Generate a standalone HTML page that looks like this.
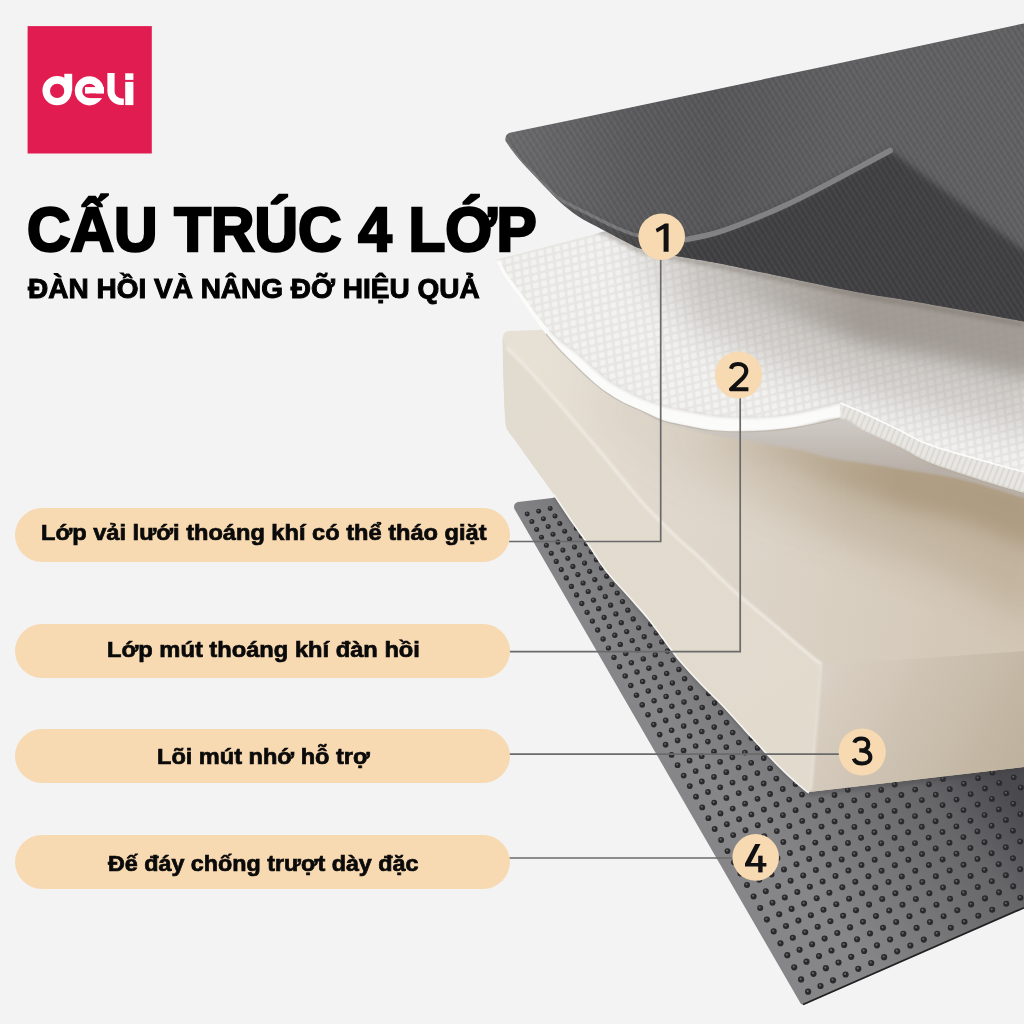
<!DOCTYPE html>
<html><head><meta charset="utf-8">
<style>
html,body{margin:0;padding:0}
body{width:1024px;height:1024px;overflow:hidden;position:relative;background:#f3f3f3;font-family:"Liberation Sans",sans-serif}
svg{position:absolute;left:0;top:0}
.t{position:absolute;white-space:nowrap;font-weight:bold;color:#000;transform-origin:0 0;line-height:1}
.pill{position:absolute;left:15px;width:495px;height:54px;border-radius:27px;background:#f7d9b2}
.pt{position:absolute;white-space:nowrap;font-weight:bold;color:#0a0a0a;font-size:22.3px;-webkit-text-stroke:0.7px #0a0a0a;line-height:1;transform-origin:0 0}
</style></head><body>
<svg width="1024" height="1024" viewBox="0 0 1024 1024">

<defs>
  <pattern id="stripes" patternUnits="userSpaceOnUse" width="5" height="5" patternTransform="rotate(-32)">
    <rect width="2.2" height="5" fill="#fff" fill-opacity="0.035"/>
    <rect x="2.5" width="2" height="5" fill="#000" fill-opacity="0.04"/>
  </pattern>
  <pattern id="stripes2" patternUnits="userSpaceOnUse" width="6" height="6" patternTransform="rotate(40)">
    <rect width="2" height="6" fill="#000" fill-opacity="0.03"/>
  </pattern>
  <pattern id="waffle" patternUnits="userSpaceOnUse" width="8.4" height="7.6" patternTransform="rotate(-14) skewX(-8)">
    <rect width="8.4" height="7.6" fill="#4a4236" fill-opacity="0.07"/>
    <rect x="1.3" y="1.2" width="5.8" height="5.2" rx="1.6" fill="#fff" fill-opacity="0.5"/>
  </pattern>
  <pattern id="ribs" patternUnits="userSpaceOnUse" width="5.5" height="5" patternTransform="rotate(22)">
    <rect width="1.6" height="5" fill="#9a9488" fill-opacity="0.2"/>
  </pattern>
  <linearGradient id="gL1" x1="505" y1="0" x2="1024" y2="0" gradientUnits="userSpaceOnUse">
    <stop offset="0" stop-color="#6b6b6d"/>
    <stop offset="0.25" stop-color="#5b5b5d"/>
    <stop offset="0.4" stop-color="#575759"/>
    <stop offset="0.66" stop-color="#606062"/>
    <stop offset="1" stop-color="#616163"/>
  </linearGradient>
  <linearGradient id="gL1r" x1="800" y1="200" x2="990" y2="90" gradientUnits="userSpaceOnUse">
    <stop offset="0" stop-color="#5f5f61" stop-opacity="0"/>
    <stop offset="1" stop-color="#646466" stop-opacity="1"/>
  </linearGradient>
  <linearGradient id="gL2s" x1="0" y1="0" x2="0" y2="1">
    <stop offset="0" stop-color="#9c9086" stop-opacity="0.75"/>
    <stop offset="1" stop-color="#9c9086" stop-opacity="0"/>
  </linearGradient>
  <linearGradient id="rampA" x1="680" y1="0" x2="860" y2="0" gradientUnits="userSpaceOnUse">
    <stop offset="0" stop-color="#fff" stop-opacity="0"/><stop offset="1" stop-color="#fff" stop-opacity="1"/>
  </linearGradient>
  <linearGradient id="rampB" x1="600" y1="0" x2="700" y2="0" gradientUnits="userSpaceOnUse">
    <stop offset="0" stop-color="#fff" stop-opacity="0"/><stop offset="1" stop-color="#fff" stop-opacity="1"/>
  </linearGradient>
  <linearGradient id="rampC" x1="700" y1="0" x2="900" y2="0" gradientUnits="userSpaceOnUse">
    <stop offset="0" stop-color="#fff" stop-opacity="0"/><stop offset="1" stop-color="#fff" stop-opacity="1"/>
  </linearGradient>
  <linearGradient id="rampD" x1="650" y1="0" x2="850" y2="0" gradientUnits="userSpaceOnUse">
    <stop offset="0" stop-color="#fff" stop-opacity="0.2"/><stop offset="1" stop-color="#fff" stop-opacity="1"/>
  </linearGradient>
  <linearGradient id="rampE" x1="560" y1="0" x2="690" y2="0" gradientUnits="userSpaceOnUse">
    <stop offset="0" stop-color="#fff" stop-opacity="0.3"/><stop offset="1" stop-color="#fff" stop-opacity="1"/>
  </linearGradient>
  <mask id="mE" maskUnits="userSpaceOnUse" x="0" y="0" width="1100" height="1100"><rect x="0" y="0" width="1100" height="1100" fill="url(#rampE)"/></mask>
  <mask id="mA" maskUnits="userSpaceOnUse" x="0" y="0" width="1100" height="1100"><rect x="0" y="0" width="1100" height="1100" fill="url(#rampA)"/></mask>
  <mask id="mB" maskUnits="userSpaceOnUse" x="0" y="0" width="1100" height="1100"><rect x="0" y="0" width="1100" height="1100" fill="url(#rampB)"/></mask>
  <mask id="mC" maskUnits="userSpaceOnUse" x="0" y="0" width="1100" height="1100"><rect x="0" y="0" width="1100" height="1100" fill="url(#rampC)"/></mask>
  <mask id="mD" maskUnits="userSpaceOnUse" x="0" y="0" width="1100" height="1100"><rect x="0" y="0" width="1100" height="1100" fill="url(#rampD)"/></mask>
  <filter id="bl10" x="-20%" y="-50%" width="140%" height="200%"><feGaussianBlur stdDeviation="10"/></filter>
  <filter id="bl18" x="-20%" y="-50%" width="140%" height="200%"><feGaussianBlur stdDeviation="18"/></filter>
  <linearGradient id="gTop" x1="520" y1="480" x2="1010" y2="560" gradientUnits="userSpaceOnUse">
    <stop offset="0" stop-color="#e6e0d5"/>
    <stop offset="0.25" stop-color="#e0d8cd"/>
    <stop offset="0.45" stop-color="#ddd5c9"/>
    <stop offset="1" stop-color="#d2c6b5"/>
  </linearGradient>
  <linearGradient id="gUnder" x1="0" y1="425" x2="0" y2="470" gradientUnits="userSpaceOnUse">
    <stop offset="0" stop-color="#cdc8c3"/>
    <stop offset="1" stop-color="#b8b0a8"/>
  </linearGradient>
  <linearGradient id="gTopS" x1="0" y1="420" x2="0" y2="560" gradientUnits="userSpaceOnUse">
    <stop offset="0" stop-color="#a89880" stop-opacity="0.55"/>
    <stop offset="1" stop-color="#a89880" stop-opacity="0"/>
  </linearGradient>
  <linearGradient id="gLF" x1="520" y1="380" x2="800" y2="720" gradientUnits="userSpaceOnUse">
    <stop offset="0" stop-color="#e2dbcf"/>
    <stop offset="1" stop-color="#e1dacd"/>
  </linearGradient>
  <linearGradient id="gFF" x1="830" y1="670" x2="1010" y2="770" gradientUnits="userSpaceOnUse">
    <stop offset="0" stop-color="#d9cfc2"/>
    <stop offset="1" stop-color="#bfb29e"/>
  </linearGradient>
  <linearGradient id="gL4" x1="840" y1="930" x2="1010" y2="790" gradientUnits="userSpaceOnUse">
    <stop offset="0" stop-color="#868688"/>
    <stop offset="0.7" stop-color="#666669"/>
    <stop offset="1" stop-color="#4a4a4e"/>
  </linearGradient>
  <filter id="blur3" x="-20%" y="-20%" width="140%" height="140%"><feGaussianBlur stdDeviation="3"/></filter>
  <filter id="blur6" x="-20%" y="-20%" width="140%" height="140%"><feGaussianBlur stdDeviation="8"/></filter>
  <filter id="blur2" x="-10%" y="-20%" width="120%" height="140%"><feGaussianBlur stdDeviation="2"/></filter>
  <filter id="blur1" x="-10%" y="-10%" width="120%" height="120%"><feGaussianBlur stdDeviation="0.8"/></filter>
  <clipPath id="cL1"><path d="M505.5,141 Q504.5,133 512.2,132.2 L575,119.3 L824,66.4 L1024,23.4 L1030,22 L1030,322.5 L1024,321.4 C1006.2,318.2 943.7,306.7 917.0,302.0 C890.3,297.3 883.5,296.9 864.0,293.3 C844.5,289.7 824.0,285.4 800.0,280.4 C776.0,275.4 737.0,266.9 720.0,263.5 C703.0,260.1 704.8,260.9 697.9,259.7 C691.0,258.5 685.2,257.6 678.9,256.5 C672.6,255.4 666.6,254.4 660.0,253.0 C653.4,251.6 644.8,250.0 639.5,248.3 C634.2,246.6 632.1,245.0 628.1,243.0 C624.1,241.0 620.5,239.2 615.4,236.5 C610.3,233.8 603.9,230.4 597.7,227.0 C591.5,223.6 584.3,220.3 578.1,216.2 C571.9,212.1 565.7,207.1 560.5,202.5 C555.3,197.9 551.6,193.7 546.9,188.8 C542.2,183.9 536.8,178.1 532.2,173.2 C527.6,168.3 524.0,164.9 519.5,159.5 C515.0,154.1 507.8,144.1 505.5,141.0 Z"/></clipPath>
  <clipPath id="cL2"><path d="M496.8,261.7 Q497,259 500,258.5 L591.6,234.7 L700,205 L1040,150 L1040,494 L1024,493 C1018.3,491.3 1005.7,488.1 990.0,483.0 C974.3,477.9 945.0,468.7 930.0,462.7 C915.0,456.7 910.8,452.4 900.0,447.2 C889.2,442.0 874.8,436.0 865.2,431.3 C855.6,426.6 846.1,421.1 842.3,419.0 L839.8,418.2 C835.7,419.2 823.2,422.3 815.0,424.0 C806.8,425.7 798.7,427.1 790.4,428.3 C782.1,429.5 773.6,430.4 765.0,431.0 C756.4,431.6 748.0,431.9 738.8,431.8 C729.6,431.7 719.3,431.6 710.0,430.5 C700.7,429.4 691.0,427.2 683.0,425.5 C675.0,423.8 669.2,423.0 662.0,420.5 C654.8,418.0 646.6,413.3 640.0,410.3 C633.4,407.3 628.0,405.4 622.5,402.5 C617.0,399.6 612.1,396.8 606.9,393.1 C601.7,389.5 596.5,385.2 591.2,380.6 C586.0,376.1 580.8,370.9 575.6,365.8 C570.4,360.7 564.9,355.5 560.0,350.2 C555.1,344.9 550.3,339.3 546.0,334.0 C541.7,328.7 538.5,324.6 534.0,318.4 C529.5,312.2 524.2,303.8 519.3,296.9 C514.4,290.0 508.4,283.2 504.6,277.3 C500.9,271.4 498.1,264.3 496.8,261.7 Z"/></clipPath>
  <clipPath id="cL3"><path d="M502.7,337.9 Q503,331.5 509,331 L538.8,330 L700,300 L1040,300 L1040,767 L1024,767 L809,792 C808.5,791.8 809.6,793.9 806.0,791.0 C802.4,788.1 794.1,781.0 787.4,774.7 C780.7,768.4 773.1,760.5 766.0,753.0 C758.9,745.5 751.7,737.4 744.5,729.6 C737.3,721.8 730.2,713.5 723.0,706.0 C715.8,698.5 708.7,692.0 701.5,684.5 C694.3,677.0 685.0,666.8 680.0,661.0 C675.0,655.2 676.5,656.7 671.3,649.8 C666.1,642.9 655.8,628.3 648.8,619.5 C641.8,610.7 636.5,605.4 629.3,597.1 C622.1,588.9 612.0,578.4 605.5,570.0 C599.0,561.6 595.4,554.8 590.0,547.0 C584.6,539.2 579.3,532.2 573.2,523.4 C567.1,514.6 560.1,503.5 553.6,494.1 C547.1,484.7 540.5,475.9 534.0,466.8 C527.5,457.7 518.7,445.2 514.5,439.4 C510.3,433.6 510.5,434.9 509.0,432.0 C507.5,429.1 506.4,430.7 505.5,422.0 C504.6,413.3 504.0,394.0 503.5,380.0 C503.0,366.0 502.8,344.9 502.7,337.9 Z"/></clipPath>
  <clipPath id="cL4"><path d="M514.3,508.7 Q513,503.5 518,502 L552.4,498 L1040,380 L1040,905 L1024,907.7 L805.5,1004.3 Q801.5,1006 799.5,1001.5 Z"/></clipPath>
</defs>

<!-- layer 4 -->
<path d="M514.3,508.7 Q513,503.5 518,502 L552.4,498 L1040,380 L1040,905 L1024,907.7 L805.5,1004.3 Q801.5,1006 799.5,1001.5 Z" fill="url(#gL4)"/>
<g clip-path="url(#cL4)">
  <g fill="#2a2a2d"><circle cx="527.2" cy="514.0" r="2.49"/><circle cx="531.9" cy="521.6" r="2.51"/><circle cx="536.7" cy="529.4" r="2.52"/><circle cx="541.5" cy="537.2" r="2.53"/><circle cx="546.4" cy="545.2" r="2.54"/><circle cx="551.3" cy="553.2" r="2.56"/><circle cx="556.3" cy="561.4" r="2.57"/><circle cx="561.3" cy="569.6" r="2.58"/><circle cx="566.3" cy="577.9" r="2.60"/><circle cx="571.4" cy="586.4" r="2.61"/><circle cx="576.6" cy="594.9" r="2.62"/><circle cx="581.8" cy="603.5" r="2.64"/><circle cx="587.1" cy="612.3" r="2.65"/><circle cx="592.4" cy="621.1" r="2.66"/><circle cx="597.7" cy="630.0" r="2.67"/><circle cx="603.1" cy="639.0" r="2.69"/><circle cx="608.5" cy="648.1" r="2.70"/><circle cx="614.0" cy="657.4" r="2.71"/><circle cx="619.6" cy="666.7" r="2.73"/><circle cx="625.2" cy="676.1" r="2.74"/><circle cx="630.8" cy="685.6" r="2.75"/><circle cx="636.5" cy="695.2" r="2.77"/><circle cx="642.2" cy="704.9" r="2.78"/><circle cx="648.0" cy="714.7" r="2.79"/><circle cx="653.8" cy="724.6" r="2.81"/><circle cx="659.7" cy="734.6" r="2.82"/><circle cx="665.6" cy="744.7" r="2.83"/><circle cx="671.6" cy="754.9" r="2.84"/><circle cx="677.6" cy="765.2" r="2.86"/><circle cx="683.7" cy="775.6" r="2.87"/><circle cx="689.8" cy="786.1" r="2.88"/><circle cx="696.0" cy="796.7" r="2.90"/><circle cx="702.2" cy="807.4" r="2.91"/><circle cx="708.4" cy="818.2" r="2.92"/><circle cx="714.7" cy="829.0" r="2.94"/><circle cx="721.1" cy="840.0" r="2.95"/><circle cx="727.5" cy="851.1" r="2.96"/><circle cx="734.0" cy="862.3" r="2.98"/><circle cx="740.5" cy="873.6" r="2.99"/><circle cx="747.0" cy="884.9" r="3.00"/><circle cx="753.6" cy="896.4" r="3.01"/><circle cx="760.2" cy="908.0" r="3.03"/><circle cx="766.9" cy="919.6" r="3.04"/><circle cx="773.7" cy="931.4" r="3.05"/><circle cx="780.5" cy="943.3" r="3.07"/><circle cx="787.3" cy="955.2" r="3.08"/><circle cx="794.2" cy="967.3" r="3.09"/><circle cx="801.1" cy="979.4" r="3.11"/><circle cx="808.1" cy="991.7" r="3.12"/><circle cx="538.7" cy="511.2" r="2.49"/><circle cx="543.4" cy="518.8" r="2.50"/><circle cx="548.2" cy="526.5" r="2.51"/><circle cx="553.0" cy="534.2" r="2.53"/><circle cx="557.9" cy="542.1" r="2.54"/><circle cx="562.9" cy="550.1" r="2.55"/><circle cx="567.8" cy="558.2" r="2.57"/><circle cx="572.9" cy="566.4" r="2.58"/><circle cx="577.9" cy="574.6" r="2.59"/><circle cx="583.1" cy="583.0" r="2.60"/><circle cx="588.2" cy="591.5" r="2.62"/><circle cx="593.5" cy="600.1" r="2.63"/><circle cx="598.7" cy="608.7" r="2.64"/><circle cx="604.1" cy="617.5" r="2.66"/><circle cx="609.4" cy="626.4" r="2.67"/><circle cx="614.8" cy="635.3" r="2.68"/><circle cx="620.3" cy="644.4" r="2.70"/><circle cx="625.8" cy="653.5" r="2.71"/><circle cx="631.4" cy="662.8" r="2.72"/><circle cx="637.0" cy="672.1" r="2.74"/><circle cx="642.6" cy="681.6" r="2.75"/><circle cx="648.3" cy="691.1" r="2.76"/><circle cx="654.1" cy="700.8" r="2.77"/><circle cx="659.9" cy="710.5" r="2.79"/><circle cx="665.7" cy="720.4" r="2.80"/><circle cx="671.6" cy="730.3" r="2.81"/><circle cx="677.6" cy="740.4" r="2.83"/><circle cx="683.6" cy="750.5" r="2.84"/><circle cx="689.6" cy="760.7" r="2.85"/><circle cx="695.7" cy="771.1" r="2.87"/><circle cx="701.8" cy="781.5" r="2.88"/><circle cx="708.0" cy="792.0" r="2.89"/><circle cx="714.2" cy="802.6" r="2.90"/><circle cx="720.5" cy="813.4" r="2.92"/><circle cx="726.9" cy="824.2" r="2.93"/><circle cx="733.2" cy="835.1" r="2.94"/><circle cx="739.6" cy="846.1" r="2.96"/><circle cx="746.1" cy="857.2" r="2.97"/><circle cx="752.6" cy="868.5" r="2.98"/><circle cx="759.2" cy="879.8" r="3.00"/><circle cx="765.8" cy="891.2" r="3.01"/><circle cx="772.5" cy="902.7" r="3.02"/><circle cx="779.2" cy="914.3" r="3.04"/><circle cx="786.0" cy="926.0" r="3.05"/><circle cx="792.8" cy="937.8" r="3.06"/><circle cx="799.6" cy="949.7" r="3.07"/><circle cx="806.5" cy="961.7" r="3.09"/><circle cx="813.5" cy="973.8" r="3.10"/><circle cx="820.5" cy="986.0" r="3.11"/><circle cx="550.2" cy="508.4" r="2.48"/><circle cx="555.0" cy="515.9" r="2.50"/><circle cx="559.8" cy="523.5" r="2.51"/><circle cx="564.7" cy="531.2" r="2.52"/><circle cx="569.6" cy="539.1" r="2.53"/><circle cx="574.5" cy="547.0" r="2.55"/><circle cx="579.5" cy="555.0" r="2.56"/><circle cx="584.6" cy="563.1" r="2.57"/><circle cx="589.7" cy="571.3" r="2.59"/><circle cx="594.8" cy="579.6" r="2.60"/><circle cx="600.0" cy="588.1" r="2.61"/><circle cx="605.3" cy="596.6" r="2.63"/><circle cx="610.6" cy="605.2" r="2.64"/><circle cx="615.9" cy="613.9" r="2.65"/><circle cx="621.3" cy="622.7" r="2.66"/><circle cx="626.7" cy="631.6" r="2.68"/><circle cx="632.2" cy="640.6" r="2.69"/><circle cx="637.7" cy="649.7" r="2.70"/><circle cx="643.3" cy="658.9" r="2.72"/><circle cx="648.9" cy="668.2" r="2.73"/><circle cx="654.6" cy="677.6" r="2.74"/><circle cx="660.3" cy="687.0" r="2.76"/><circle cx="666.1" cy="696.6" r="2.77"/><circle cx="671.9" cy="706.3" r="2.78"/><circle cx="677.8" cy="716.1" r="2.80"/><circle cx="683.7" cy="726.0" r="2.81"/><circle cx="689.7" cy="736.0" r="2.82"/><circle cx="695.7" cy="746.0" r="2.83"/><circle cx="701.7" cy="756.2" r="2.85"/><circle cx="707.8" cy="766.5" r="2.86"/><circle cx="714.0" cy="776.9" r="2.87"/><circle cx="720.2" cy="787.3" r="2.89"/><circle cx="726.4" cy="797.9" r="2.90"/><circle cx="732.7" cy="808.6" r="2.91"/><circle cx="739.1" cy="819.3" r="2.93"/><circle cx="745.5" cy="830.2" r="2.94"/><circle cx="751.9" cy="841.1" r="2.95"/><circle cx="758.4" cy="852.2" r="2.97"/><circle cx="764.9" cy="863.3" r="2.98"/><circle cx="771.5" cy="874.6" r="2.99"/><circle cx="778.2" cy="886.0" r="3.00"/><circle cx="784.8" cy="897.4" r="3.02"/><circle cx="791.6" cy="908.9" r="3.03"/><circle cx="798.4" cy="920.6" r="3.04"/><circle cx="805.2" cy="932.3" r="3.06"/><circle cx="812.1" cy="944.2" r="3.07"/><circle cx="819.0" cy="956.1" r="3.08"/><circle cx="825.9" cy="968.2" r="3.10"/><circle cx="833.0" cy="980.3" r="3.11"/><circle cx="576.4" cy="528.2" r="2.52"/><circle cx="581.4" cy="536.0" r="2.53"/><circle cx="586.3" cy="543.8" r="2.54"/><circle cx="591.3" cy="551.8" r="2.56"/><circle cx="596.4" cy="559.8" r="2.57"/><circle cx="601.5" cy="568.0" r="2.58"/><circle cx="606.7" cy="576.2" r="2.59"/><circle cx="611.9" cy="584.6" r="2.61"/><circle cx="617.2" cy="593.0" r="2.62"/><circle cx="622.5" cy="601.6" r="2.63"/><circle cx="627.8" cy="610.2" r="2.65"/><circle cx="633.2" cy="619.0" r="2.66"/><circle cx="638.7" cy="627.8" r="2.67"/><circle cx="644.2" cy="636.8" r="2.69"/><circle cx="649.7" cy="645.8" r="2.70"/><circle cx="655.3" cy="654.9" r="2.71"/><circle cx="661.0" cy="664.2" r="2.73"/><circle cx="666.7" cy="673.5" r="2.74"/><circle cx="672.4" cy="682.9" r="2.75"/><circle cx="678.2" cy="692.4" r="2.76"/><circle cx="684.0" cy="702.1" r="2.78"/><circle cx="689.9" cy="711.8" r="2.79"/><circle cx="695.9" cy="721.6" r="2.80"/><circle cx="701.8" cy="731.5" r="2.82"/><circle cx="707.9" cy="741.6" r="2.83"/><circle cx="714.0" cy="751.7" r="2.84"/><circle cx="720.1" cy="761.9" r="2.86"/><circle cx="726.3" cy="772.2" r="2.87"/><circle cx="732.5" cy="782.6" r="2.88"/><circle cx="738.7" cy="793.1" r="2.89"/><circle cx="745.1" cy="803.7" r="2.91"/><circle cx="751.4" cy="814.4" r="2.92"/><circle cx="757.8" cy="825.2" r="2.93"/><circle cx="764.3" cy="836.1" r="2.95"/><circle cx="770.8" cy="847.1" r="2.96"/><circle cx="777.4" cy="858.2" r="2.97"/><circle cx="784.0" cy="869.4" r="2.99"/><circle cx="790.6" cy="880.7" r="3.00"/><circle cx="797.3" cy="892.1" r="3.01"/><circle cx="804.1" cy="903.6" r="3.03"/><circle cx="810.9" cy="915.2" r="3.04"/><circle cx="817.7" cy="926.8" r="3.05"/><circle cx="824.6" cy="938.6" r="3.06"/><circle cx="831.5" cy="950.5" r="3.08"/><circle cx="838.5" cy="962.5" r="3.09"/><circle cx="845.6" cy="974.5" r="3.10"/><circle cx="650.8" cy="624.0" r="2.67"/><circle cx="656.3" cy="632.9" r="2.68"/><circle cx="661.9" cy="641.9" r="2.69"/><circle cx="667.5" cy="651.0" r="2.71"/><circle cx="673.2" cy="660.1" r="2.72"/><circle cx="678.9" cy="669.4" r="2.73"/><circle cx="684.6" cy="678.8" r="2.75"/><circle cx="690.4" cy="688.2" r="2.76"/><circle cx="696.3" cy="697.8" r="2.77"/><circle cx="702.2" cy="707.5" r="2.79"/><circle cx="708.2" cy="717.2" r="2.80"/><circle cx="714.2" cy="727.1" r="2.81"/><circle cx="720.2" cy="737.0" r="2.82"/><circle cx="726.3" cy="747.1" r="2.84"/><circle cx="732.4" cy="757.3" r="2.85"/><circle cx="738.6" cy="767.5" r="2.86"/><circle cx="744.9" cy="777.9" r="2.88"/><circle cx="751.2" cy="788.3" r="2.89"/><circle cx="757.5" cy="798.8" r="2.90"/><circle cx="763.9" cy="809.5" r="2.92"/><circle cx="770.3" cy="820.2" r="2.93"/><circle cx="776.8" cy="831.1" r="2.94"/><circle cx="783.3" cy="842.0" r="2.95"/><circle cx="789.9" cy="853.0" r="2.97"/><circle cx="796.5" cy="864.2" r="2.98"/><circle cx="803.2" cy="875.4" r="2.99"/><circle cx="809.9" cy="886.7" r="3.01"/><circle cx="816.7" cy="898.2" r="3.02"/><circle cx="823.5" cy="909.7" r="3.03"/><circle cx="830.4" cy="921.3" r="3.05"/><circle cx="837.3" cy="933.0" r="3.06"/><circle cx="844.2" cy="944.9" r="3.07"/><circle cx="851.2" cy="956.8" r="3.09"/><circle cx="858.3" cy="968.8" r="3.10"/><circle cx="708.7" cy="693.5" r="2.77"/><circle cx="714.6" cy="703.1" r="2.78"/><circle cx="720.6" cy="712.8" r="2.79"/><circle cx="726.6" cy="722.6" r="2.81"/><circle cx="732.7" cy="732.5" r="2.82"/><circle cx="738.8" cy="742.5" r="2.83"/><circle cx="744.9" cy="752.6" r="2.85"/><circle cx="751.2" cy="762.8" r="2.86"/><circle cx="757.4" cy="773.1" r="2.87"/><circle cx="763.7" cy="783.5" r="2.88"/><circle cx="770.1" cy="794.0" r="2.90"/><circle cx="776.5" cy="804.5" r="2.91"/><circle cx="782.9" cy="815.2" r="2.92"/><circle cx="789.4" cy="826.0" r="2.94"/><circle cx="796.0" cy="836.9" r="2.95"/><circle cx="802.6" cy="847.9" r="2.96"/><circle cx="809.2" cy="858.9" r="2.98"/><circle cx="815.9" cy="870.1" r="2.99"/><circle cx="822.6" cy="881.4" r="3.00"/><circle cx="829.4" cy="892.7" r="3.02"/><circle cx="836.3" cy="904.2" r="3.03"/><circle cx="843.1" cy="915.8" r="3.04"/><circle cx="850.1" cy="927.4" r="3.05"/><circle cx="857.1" cy="939.2" r="3.07"/><circle cx="864.1" cy="951.0" r="3.08"/><circle cx="871.2" cy="963.0" r="3.09"/><circle cx="751.4" cy="737.9" r="2.83"/><circle cx="757.6" cy="747.9" r="2.84"/><circle cx="763.8" cy="758.1" r="2.85"/><circle cx="770.1" cy="768.3" r="2.87"/><circle cx="776.4" cy="778.6" r="2.88"/><circle cx="782.8" cy="789.0" r="2.89"/><circle cx="789.2" cy="799.6" r="2.91"/><circle cx="795.6" cy="810.2" r="2.92"/><circle cx="802.2" cy="820.9" r="2.93"/><circle cx="808.7" cy="831.7" r="2.94"/><circle cx="815.3" cy="842.6" r="2.96"/><circle cx="822.0" cy="853.7" r="2.97"/><circle cx="828.7" cy="864.8" r="2.98"/><circle cx="835.5" cy="876.0" r="3.00"/><circle cx="842.3" cy="887.3" r="3.01"/><circle cx="849.1" cy="898.7" r="3.02"/><circle cx="856.0" cy="910.2" r="3.04"/><circle cx="863.0" cy="921.8" r="3.05"/><circle cx="870.0" cy="933.5" r="3.06"/><circle cx="877.0" cy="945.3" r="3.08"/><circle cx="884.1" cy="957.2" r="3.09"/><circle cx="795.6" cy="784.1" r="2.89"/><circle cx="802.0" cy="794.6" r="2.90"/><circle cx="808.5" cy="805.1" r="2.91"/><circle cx="815.0" cy="815.8" r="2.93"/><circle cx="821.6" cy="826.6" r="2.94"/><circle cx="828.2" cy="837.4" r="2.95"/><circle cx="834.9" cy="848.4" r="2.97"/><circle cx="841.7" cy="859.4" r="2.98"/><circle cx="848.4" cy="870.6" r="2.99"/><circle cx="855.3" cy="881.8" r="3.01"/><circle cx="862.1" cy="893.2" r="3.02"/><circle cx="869.1" cy="904.6" r="3.03"/><circle cx="876.0" cy="916.1" r="3.04"/><circle cx="883.0" cy="927.8" r="3.06"/><circle cx="890.1" cy="939.5" r="3.07"/><circle cx="897.2" cy="951.3" r="3.08"/><circle cx="821.5" cy="800.1" r="2.91"/><circle cx="828.0" cy="810.7" r="2.92"/><circle cx="834.6" cy="821.4" r="2.94"/><circle cx="841.3" cy="832.1" r="2.95"/><circle cx="848.0" cy="843.0" r="2.96"/><circle cx="854.7" cy="854.0" r="2.97"/><circle cx="861.5" cy="865.1" r="2.99"/><circle cx="868.4" cy="876.3" r="3.00"/><circle cx="875.3" cy="887.6" r="3.01"/><circle cx="882.2" cy="899.0" r="3.03"/><circle cx="889.2" cy="910.5" r="3.04"/><circle cx="896.2" cy="922.0" r="3.05"/><circle cx="903.3" cy="933.7" r="3.07"/><circle cx="910.4" cy="945.5" r="3.08"/><circle cx="834.5" cy="795.0" r="2.90"/><circle cx="841.1" cy="805.5" r="2.92"/><circle cx="847.7" cy="816.1" r="2.93"/><circle cx="854.4" cy="826.9" r="2.94"/><circle cx="861.1" cy="837.7" r="2.96"/><circle cx="867.9" cy="848.6" r="2.97"/><circle cx="874.7" cy="859.7" r="2.98"/><circle cx="881.6" cy="870.8" r="3.00"/><circle cx="888.5" cy="882.0" r="3.01"/><circle cx="895.4" cy="893.3" r="3.02"/><circle cx="902.5" cy="904.8" r="3.03"/><circle cx="909.5" cy="916.3" r="3.05"/><circle cx="916.6" cy="927.9" r="3.06"/><circle cx="923.8" cy="939.6" r="3.07"/><circle cx="847.8" cy="789.8" r="2.90"/><circle cx="854.3" cy="800.3" r="2.91"/><circle cx="861.0" cy="810.9" r="2.93"/><circle cx="867.7" cy="821.6" r="2.94"/><circle cx="874.4" cy="832.3" r="2.95"/><circle cx="881.2" cy="843.2" r="2.96"/><circle cx="888.0" cy="854.2" r="2.98"/><circle cx="894.9" cy="865.2" r="2.99"/><circle cx="901.8" cy="876.4" r="3.00"/><circle cx="908.8" cy="887.7" r="3.02"/><circle cx="915.9" cy="899.0" r="3.03"/><circle cx="922.9" cy="910.5" r="3.04"/><circle cx="930.0" cy="922.0" r="3.06"/><circle cx="937.2" cy="933.7" r="3.07"/><circle cx="867.7" cy="795.1" r="2.91"/><circle cx="874.3" cy="805.6" r="2.92"/><circle cx="881.1" cy="816.2" r="2.93"/><circle cx="887.8" cy="826.9" r="2.95"/><circle cx="894.6" cy="837.7" r="2.96"/><circle cx="901.5" cy="848.7" r="2.97"/><circle cx="908.4" cy="859.7" r="2.99"/><circle cx="915.3" cy="870.8" r="3.00"/><circle cx="922.3" cy="882.0" r="3.01"/><circle cx="929.4" cy="893.3" r="3.02"/><circle cx="936.5" cy="904.7" r="3.04"/><circle cx="943.6" cy="916.2" r="3.05"/><circle cx="950.8" cy="927.8" r="3.06"/><circle cx="881.2" cy="789.9" r="2.90"/><circle cx="887.8" cy="800.3" r="2.92"/><circle cx="894.6" cy="810.9" r="2.93"/><circle cx="901.3" cy="821.5" r="2.94"/><circle cx="908.2" cy="832.3" r="2.95"/><circle cx="915.0" cy="843.1" r="2.97"/><circle cx="922.0" cy="854.1" r="2.98"/><circle cx="928.9" cy="865.1" r="2.99"/><circle cx="935.9" cy="876.3" r="3.01"/><circle cx="943.0" cy="887.5" r="3.02"/><circle cx="950.1" cy="898.8" r="3.03"/><circle cx="957.3" cy="910.3" r="3.05"/><circle cx="964.5" cy="921.8" r="3.06"/><circle cx="894.7" cy="784.6" r="2.90"/><circle cx="901.4" cy="795.0" r="2.91"/><circle cx="908.2" cy="805.5" r="2.92"/><circle cx="915.0" cy="816.1" r="2.94"/><circle cx="921.8" cy="826.8" r="2.95"/><circle cx="928.7" cy="837.6" r="2.96"/><circle cx="935.7" cy="848.4" r="2.98"/><circle cx="942.6" cy="859.4" r="2.99"/><circle cx="949.7" cy="870.5" r="3.00"/><circle cx="956.8" cy="881.7" r="3.01"/><circle cx="963.9" cy="893.0" r="3.03"/><circle cx="971.1" cy="904.4" r="3.04"/><circle cx="978.3" cy="915.8" r="3.05"/><circle cx="915.2" cy="789.6" r="2.91"/><circle cx="921.9" cy="800.1" r="2.92"/><circle cx="928.7" cy="810.6" r="2.93"/><circle cx="935.6" cy="821.2" r="2.94"/><circle cx="942.5" cy="832.0" r="2.96"/><circle cx="949.5" cy="842.8" r="2.97"/><circle cx="956.5" cy="853.7" r="2.98"/><circle cx="963.5" cy="864.8" r="3.00"/><circle cx="970.6" cy="875.9" r="3.01"/><circle cx="977.8" cy="887.1" r="3.02"/><circle cx="985.0" cy="898.4" r="3.04"/><circle cx="992.2" cy="909.8" r="3.05"/><circle cx="929.0" cy="784.3" r="2.90"/><circle cx="935.8" cy="794.7" r="2.91"/><circle cx="942.6" cy="805.1" r="2.93"/><circle cx="949.5" cy="815.7" r="2.94"/><circle cx="956.4" cy="826.4" r="2.95"/><circle cx="963.4" cy="837.1" r="2.97"/><circle cx="970.4" cy="848.0" r="2.98"/><circle cx="977.5" cy="859.0" r="2.99"/><circle cx="984.6" cy="870.0" r="3.01"/><circle cx="991.8" cy="881.2" r="3.02"/><circle cx="999.0" cy="892.4" r="3.03"/><circle cx="1006.3" cy="903.8" r="3.04"/><circle cx="943.0" cy="778.9" r="2.90"/><circle cx="949.8" cy="789.2" r="2.91"/><circle cx="956.6" cy="799.6" r="2.92"/><circle cx="963.5" cy="810.1" r="2.94"/><circle cx="970.5" cy="820.7" r="2.95"/><circle cx="977.5" cy="831.4" r="2.96"/><circle cx="984.5" cy="842.2" r="2.97"/><circle cx="991.6" cy="853.2" r="2.99"/><circle cx="998.7" cy="864.2" r="3.00"/><circle cx="1005.9" cy="875.3" r="3.01"/><circle cx="1013.2" cy="886.4" r="3.03"/><circle cx="1020.4" cy="897.7" r="3.04"/><circle cx="963.9" cy="783.7" r="2.90"/><circle cx="970.7" cy="794.1" r="2.92"/><circle cx="977.7" cy="804.5" r="2.93"/><circle cx="984.6" cy="815.1" r="2.94"/><circle cx="991.6" cy="825.7" r="2.96"/><circle cx="998.7" cy="836.5" r="2.97"/><circle cx="1005.8" cy="847.3" r="2.98"/><circle cx="1013.0" cy="858.3" r="3.00"/><circle cx="1020.2" cy="869.3" r="3.01"/><circle cx="1027.4" cy="880.4" r="3.02"/><circle cx="978.1" cy="778.2" r="2.90"/><circle cx="985.0" cy="788.5" r="2.91"/><circle cx="991.9" cy="798.9" r="2.93"/><circle cx="998.9" cy="809.4" r="2.94"/><circle cx="1005.9" cy="820.0" r="2.95"/><circle cx="1013.0" cy="830.7" r="2.96"/><circle cx="1020.2" cy="841.5" r="2.98"/><circle cx="1027.3" cy="852.3" r="2.99"/><circle cx="992.4" cy="772.7" r="2.90"/><circle cx="999.3" cy="782.9" r="2.91"/><circle cx="1006.3" cy="793.3" r="2.92"/><circle cx="1013.3" cy="803.7" r="2.93"/><circle cx="1020.4" cy="814.2" r="2.95"/><circle cx="1027.5" cy="824.8" r="2.96"/><circle cx="1013.8" cy="777.3" r="2.90"/><circle cx="1020.8" cy="787.6" r="2.92"/><circle cx="1027.8" cy="798.0" r="2.93"/><circle cx="1028.4" cy="771.7" r="2.90"/></g>
  <g fill="#8a8a8c" fill-opacity="0.6"><circle cx="526.7" cy="513.4" r="0.87"/><circle cx="531.4" cy="521.0" r="0.88"/><circle cx="536.2" cy="528.8" r="0.88"/><circle cx="541.0" cy="536.6" r="0.89"/><circle cx="545.9" cy="544.6" r="0.89"/><circle cx="550.8" cy="552.6" r="0.90"/><circle cx="555.8" cy="560.8" r="0.90"/><circle cx="560.8" cy="569.0" r="0.90"/><circle cx="565.8" cy="577.3" r="0.91"/><circle cx="570.9" cy="585.8" r="0.91"/><circle cx="576.1" cy="594.3" r="0.92"/><circle cx="581.3" cy="602.9" r="0.92"/><circle cx="586.6" cy="611.7" r="0.93"/><circle cx="591.9" cy="620.5" r="0.93"/><circle cx="597.2" cy="629.4" r="0.94"/><circle cx="602.6" cy="638.4" r="0.94"/><circle cx="608.0" cy="647.5" r="0.95"/><circle cx="613.5" cy="656.8" r="0.95"/><circle cx="619.1" cy="666.1" r="0.95"/><circle cx="624.7" cy="675.5" r="0.96"/><circle cx="630.3" cy="685.0" r="0.96"/><circle cx="636.0" cy="694.6" r="0.97"/><circle cx="641.7" cy="704.3" r="0.97"/><circle cx="647.5" cy="714.1" r="0.98"/><circle cx="653.3" cy="724.0" r="0.98"/><circle cx="659.2" cy="734.0" r="0.99"/><circle cx="665.1" cy="744.1" r="0.99"/><circle cx="671.1" cy="754.3" r="1.00"/><circle cx="677.1" cy="764.6" r="1.00"/><circle cx="683.2" cy="775.0" r="1.00"/><circle cx="689.3" cy="785.5" r="1.01"/><circle cx="695.5" cy="796.1" r="1.01"/><circle cx="701.7" cy="806.8" r="1.02"/><circle cx="707.9" cy="817.6" r="1.02"/><circle cx="714.2" cy="828.4" r="1.03"/><circle cx="720.6" cy="839.4" r="1.03"/><circle cx="727.0" cy="850.5" r="1.04"/><circle cx="733.5" cy="861.7" r="1.04"/><circle cx="740.0" cy="873.0" r="1.05"/><circle cx="746.5" cy="884.3" r="1.05"/><circle cx="753.1" cy="895.8" r="1.06"/><circle cx="759.7" cy="907.4" r="1.06"/><circle cx="766.4" cy="919.0" r="1.06"/><circle cx="773.2" cy="930.8" r="1.07"/><circle cx="780.0" cy="942.7" r="1.07"/><circle cx="786.8" cy="954.6" r="1.08"/><circle cx="793.7" cy="966.7" r="1.08"/><circle cx="800.6" cy="978.8" r="1.09"/><circle cx="807.6" cy="991.1" r="1.09"/><circle cx="538.2" cy="510.6" r="0.87"/><circle cx="542.9" cy="518.2" r="0.88"/><circle cx="547.7" cy="525.9" r="0.88"/><circle cx="552.5" cy="533.6" r="0.88"/><circle cx="557.4" cy="541.5" r="0.89"/><circle cx="562.4" cy="549.5" r="0.89"/><circle cx="567.3" cy="557.6" r="0.90"/><circle cx="572.4" cy="565.8" r="0.90"/><circle cx="577.4" cy="574.0" r="0.91"/><circle cx="582.6" cy="582.4" r="0.91"/><circle cx="587.8" cy="590.9" r="0.92"/><circle cx="593.0" cy="599.5" r="0.92"/><circle cx="598.2" cy="608.1" r="0.93"/><circle cx="603.6" cy="616.9" r="0.93"/><circle cx="608.9" cy="625.8" r="0.93"/><circle cx="614.3" cy="634.7" r="0.94"/><circle cx="619.8" cy="643.8" r="0.94"/><circle cx="625.3" cy="652.9" r="0.95"/><circle cx="630.9" cy="662.2" r="0.95"/><circle cx="636.5" cy="671.5" r="0.96"/><circle cx="642.1" cy="681.0" r="0.96"/><circle cx="647.8" cy="690.5" r="0.97"/><circle cx="653.6" cy="700.2" r="0.97"/><circle cx="659.4" cy="709.9" r="0.98"/><circle cx="665.2" cy="719.8" r="0.98"/><circle cx="671.1" cy="729.7" r="0.98"/><circle cx="677.1" cy="739.8" r="0.99"/><circle cx="683.1" cy="749.9" r="0.99"/><circle cx="689.1" cy="760.1" r="1.00"/><circle cx="695.2" cy="770.5" r="1.00"/><circle cx="701.3" cy="780.9" r="1.01"/><circle cx="707.5" cy="791.4" r="1.01"/><circle cx="713.7" cy="802.0" r="1.02"/><circle cx="720.0" cy="812.8" r="1.02"/><circle cx="726.4" cy="823.6" r="1.03"/><circle cx="732.7" cy="834.5" r="1.03"/><circle cx="739.1" cy="845.5" r="1.03"/><circle cx="745.6" cy="856.6" r="1.04"/><circle cx="752.1" cy="867.9" r="1.04"/><circle cx="758.7" cy="879.2" r="1.05"/><circle cx="765.3" cy="890.6" r="1.05"/><circle cx="772.0" cy="902.1" r="1.06"/><circle cx="778.7" cy="913.7" r="1.06"/><circle cx="785.5" cy="925.4" r="1.07"/><circle cx="792.3" cy="937.2" r="1.07"/><circle cx="799.1" cy="949.1" r="1.08"/><circle cx="806.0" cy="961.1" r="1.08"/><circle cx="813.0" cy="973.2" r="1.09"/><circle cx="820.0" cy="985.4" r="1.09"/><circle cx="549.7" cy="507.8" r="0.87"/><circle cx="554.5" cy="515.3" r="0.87"/><circle cx="559.3" cy="522.9" r="0.88"/><circle cx="564.2" cy="530.6" r="0.88"/><circle cx="569.1" cy="538.5" r="0.89"/><circle cx="574.0" cy="546.4" r="0.89"/><circle cx="579.0" cy="554.4" r="0.90"/><circle cx="584.1" cy="562.5" r="0.90"/><circle cx="589.2" cy="570.7" r="0.91"/><circle cx="594.3" cy="579.0" r="0.91"/><circle cx="599.5" cy="587.5" r="0.91"/><circle cx="604.8" cy="596.0" r="0.92"/><circle cx="610.1" cy="604.6" r="0.92"/><circle cx="615.4" cy="613.3" r="0.93"/><circle cx="620.8" cy="622.1" r="0.93"/><circle cx="626.2" cy="631.0" r="0.94"/><circle cx="631.7" cy="640.0" r="0.94"/><circle cx="637.2" cy="649.1" r="0.95"/><circle cx="642.8" cy="658.3" r="0.95"/><circle cx="648.4" cy="667.6" r="0.96"/><circle cx="654.1" cy="677.0" r="0.96"/><circle cx="659.8" cy="686.4" r="0.96"/><circle cx="665.6" cy="696.0" r="0.97"/><circle cx="671.4" cy="705.7" r="0.97"/><circle cx="677.3" cy="715.5" r="0.98"/><circle cx="683.2" cy="725.4" r="0.98"/><circle cx="689.2" cy="735.4" r="0.99"/><circle cx="695.2" cy="745.4" r="0.99"/><circle cx="701.2" cy="755.6" r="1.00"/><circle cx="707.3" cy="765.9" r="1.00"/><circle cx="713.5" cy="776.3" r="1.01"/><circle cx="719.7" cy="786.7" r="1.01"/><circle cx="725.9" cy="797.3" r="1.01"/><circle cx="732.2" cy="808.0" r="1.02"/><circle cx="738.6" cy="818.7" r="1.02"/><circle cx="745.0" cy="829.6" r="1.03"/><circle cx="751.4" cy="840.5" r="1.03"/><circle cx="757.9" cy="851.6" r="1.04"/><circle cx="764.4" cy="862.7" r="1.04"/><circle cx="771.0" cy="874.0" r="1.05"/><circle cx="777.7" cy="885.4" r="1.05"/><circle cx="784.3" cy="896.8" r="1.06"/><circle cx="791.1" cy="908.3" r="1.06"/><circle cx="797.9" cy="920.0" r="1.07"/><circle cx="804.7" cy="931.7" r="1.07"/><circle cx="811.6" cy="943.6" r="1.07"/><circle cx="818.5" cy="955.5" r="1.08"/><circle cx="825.4" cy="967.6" r="1.08"/><circle cx="832.5" cy="979.7" r="1.09"/><circle cx="575.9" cy="527.6" r="0.88"/><circle cx="580.9" cy="535.4" r="0.89"/><circle cx="585.8" cy="543.2" r="0.89"/><circle cx="590.8" cy="551.2" r="0.89"/><circle cx="595.9" cy="559.2" r="0.90"/><circle cx="601.0" cy="567.4" r="0.90"/><circle cx="606.2" cy="575.6" r="0.91"/><circle cx="611.4" cy="584.0" r="0.91"/><circle cx="616.7" cy="592.4" r="0.92"/><circle cx="622.0" cy="601.0" r="0.92"/><circle cx="627.3" cy="609.6" r="0.93"/><circle cx="632.7" cy="618.4" r="0.93"/><circle cx="638.2" cy="627.2" r="0.94"/><circle cx="643.7" cy="636.2" r="0.94"/><circle cx="649.2" cy="645.2" r="0.94"/><circle cx="654.8" cy="654.3" r="0.95"/><circle cx="660.5" cy="663.6" r="0.95"/><circle cx="666.2" cy="672.9" r="0.96"/><circle cx="671.9" cy="682.3" r="0.96"/><circle cx="677.7" cy="691.8" r="0.97"/><circle cx="683.5" cy="701.5" r="0.97"/><circle cx="689.4" cy="711.2" r="0.98"/><circle cx="695.4" cy="721.0" r="0.98"/><circle cx="701.3" cy="730.9" r="0.99"/><circle cx="707.4" cy="741.0" r="0.99"/><circle cx="713.5" cy="751.1" r="0.99"/><circle cx="719.6" cy="761.3" r="1.00"/><circle cx="725.8" cy="771.6" r="1.00"/><circle cx="732.0" cy="782.0" r="1.01"/><circle cx="738.2" cy="792.5" r="1.01"/><circle cx="744.6" cy="803.1" r="1.02"/><circle cx="750.9" cy="813.8" r="1.02"/><circle cx="757.3" cy="824.6" r="1.03"/><circle cx="763.8" cy="835.5" r="1.03"/><circle cx="770.3" cy="846.5" r="1.04"/><circle cx="776.9" cy="857.6" r="1.04"/><circle cx="783.5" cy="868.8" r="1.05"/><circle cx="790.1" cy="880.1" r="1.05"/><circle cx="796.8" cy="891.5" r="1.05"/><circle cx="803.6" cy="903.0" r="1.06"/><circle cx="810.4" cy="914.6" r="1.06"/><circle cx="817.2" cy="926.2" r="1.07"/><circle cx="824.1" cy="938.0" r="1.07"/><circle cx="831.0" cy="949.9" r="1.08"/><circle cx="838.0" cy="961.9" r="1.08"/><circle cx="845.1" cy="973.9" r="1.09"/><circle cx="650.3" cy="623.4" r="0.93"/><circle cx="655.8" cy="632.3" r="0.94"/><circle cx="661.4" cy="641.3" r="0.94"/><circle cx="667.0" cy="650.4" r="0.95"/><circle cx="672.7" cy="659.5" r="0.95"/><circle cx="678.4" cy="668.8" r="0.96"/><circle cx="684.1" cy="678.2" r="0.96"/><circle cx="689.9" cy="687.6" r="0.97"/><circle cx="695.8" cy="697.2" r="0.97"/><circle cx="701.7" cy="706.9" r="0.97"/><circle cx="707.7" cy="716.6" r="0.98"/><circle cx="713.7" cy="726.5" r="0.98"/><circle cx="719.7" cy="736.4" r="0.99"/><circle cx="725.8" cy="746.5" r="0.99"/><circle cx="731.9" cy="756.7" r="1.00"/><circle cx="738.1" cy="766.9" r="1.00"/><circle cx="744.4" cy="777.3" r="1.01"/><circle cx="750.7" cy="787.7" r="1.01"/><circle cx="757.0" cy="798.2" r="1.02"/><circle cx="763.4" cy="808.9" r="1.02"/><circle cx="769.8" cy="819.6" r="1.03"/><circle cx="776.3" cy="830.5" r="1.03"/><circle cx="782.8" cy="841.4" r="1.03"/><circle cx="789.4" cy="852.4" r="1.04"/><circle cx="796.0" cy="863.6" r="1.04"/><circle cx="802.7" cy="874.8" r="1.05"/><circle cx="809.4" cy="886.1" r="1.05"/><circle cx="816.2" cy="897.6" r="1.06"/><circle cx="823.0" cy="909.1" r="1.06"/><circle cx="829.9" cy="920.7" r="1.07"/><circle cx="836.8" cy="932.4" r="1.07"/><circle cx="843.7" cy="944.3" r="1.08"/><circle cx="850.7" cy="956.2" r="1.08"/><circle cx="857.8" cy="968.2" r="1.08"/><circle cx="708.2" cy="692.9" r="0.97"/><circle cx="714.1" cy="702.5" r="0.97"/><circle cx="720.1" cy="712.2" r="0.98"/><circle cx="726.1" cy="722.0" r="0.98"/><circle cx="732.2" cy="731.9" r="0.99"/><circle cx="738.3" cy="741.9" r="0.99"/><circle cx="744.4" cy="752.0" r="1.00"/><circle cx="750.7" cy="762.2" r="1.00"/><circle cx="756.9" cy="772.5" r="1.01"/><circle cx="763.2" cy="782.9" r="1.01"/><circle cx="769.6" cy="793.4" r="1.01"/><circle cx="776.0" cy="803.9" r="1.02"/><circle cx="782.4" cy="814.6" r="1.02"/><circle cx="788.9" cy="825.4" r="1.03"/><circle cx="795.5" cy="836.3" r="1.03"/><circle cx="802.1" cy="847.3" r="1.04"/><circle cx="808.7" cy="858.3" r="1.04"/><circle cx="815.4" cy="869.5" r="1.05"/><circle cx="822.1" cy="880.8" r="1.05"/><circle cx="828.9" cy="892.1" r="1.06"/><circle cx="835.8" cy="903.6" r="1.06"/><circle cx="842.6" cy="915.2" r="1.06"/><circle cx="849.6" cy="926.8" r="1.07"/><circle cx="856.6" cy="938.6" r="1.07"/><circle cx="863.6" cy="950.4" r="1.08"/><circle cx="870.7" cy="962.4" r="1.08"/><circle cx="750.9" cy="737.3" r="0.99"/><circle cx="757.1" cy="747.3" r="0.99"/><circle cx="763.3" cy="757.5" r="1.00"/><circle cx="769.6" cy="767.7" r="1.00"/><circle cx="775.9" cy="778.0" r="1.01"/><circle cx="782.3" cy="788.4" r="1.01"/><circle cx="788.7" cy="799.0" r="1.02"/><circle cx="795.1" cy="809.6" r="1.02"/><circle cx="801.7" cy="820.3" r="1.03"/><circle cx="808.2" cy="831.1" r="1.03"/><circle cx="814.8" cy="842.0" r="1.04"/><circle cx="821.5" cy="853.1" r="1.04"/><circle cx="828.2" cy="864.2" r="1.04"/><circle cx="835.0" cy="875.4" r="1.05"/><circle cx="841.8" cy="886.7" r="1.05"/><circle cx="848.6" cy="898.1" r="1.06"/><circle cx="855.5" cy="909.6" r="1.06"/><circle cx="862.5" cy="921.2" r="1.07"/><circle cx="869.5" cy="932.9" r="1.07"/><circle cx="876.5" cy="944.7" r="1.08"/><circle cx="883.6" cy="956.6" r="1.08"/><circle cx="795.1" cy="783.5" r="1.01"/><circle cx="801.5" cy="794.0" r="1.02"/><circle cx="808.0" cy="804.5" r="1.02"/><circle cx="814.5" cy="815.2" r="1.02"/><circle cx="821.1" cy="826.0" r="1.03"/><circle cx="827.8" cy="836.8" r="1.03"/><circle cx="834.4" cy="847.8" r="1.04"/><circle cx="841.2" cy="858.8" r="1.04"/><circle cx="847.9" cy="870.0" r="1.05"/><circle cx="854.8" cy="881.2" r="1.05"/><circle cx="861.6" cy="892.6" r="1.06"/><circle cx="868.6" cy="904.0" r="1.06"/><circle cx="875.5" cy="915.5" r="1.07"/><circle cx="882.5" cy="927.2" r="1.07"/><circle cx="889.6" cy="938.9" r="1.07"/><circle cx="896.7" cy="950.7" r="1.08"/><circle cx="821.0" cy="799.5" r="1.02"/><circle cx="827.5" cy="810.1" r="1.02"/><circle cx="834.1" cy="820.8" r="1.03"/><circle cx="840.8" cy="831.5" r="1.03"/><circle cx="847.5" cy="842.4" r="1.04"/><circle cx="854.2" cy="853.4" r="1.04"/><circle cx="861.0" cy="864.5" r="1.05"/><circle cx="867.9" cy="875.7" r="1.05"/><circle cx="874.8" cy="887.0" r="1.05"/><circle cx="881.7" cy="898.4" r="1.06"/><circle cx="888.7" cy="909.9" r="1.06"/><circle cx="895.7" cy="921.4" r="1.07"/><circle cx="902.8" cy="933.1" r="1.07"/><circle cx="909.9" cy="944.9" r="1.08"/><circle cx="834.0" cy="794.4" r="1.02"/><circle cx="840.6" cy="804.9" r="1.02"/><circle cx="847.2" cy="815.5" r="1.03"/><circle cx="853.9" cy="826.3" r="1.03"/><circle cx="860.6" cy="837.1" r="1.03"/><circle cx="867.4" cy="848.0" r="1.04"/><circle cx="874.2" cy="859.1" r="1.04"/><circle cx="881.1" cy="870.2" r="1.05"/><circle cx="888.0" cy="881.4" r="1.05"/><circle cx="894.9" cy="892.7" r="1.06"/><circle cx="902.0" cy="904.2" r="1.06"/><circle cx="909.0" cy="915.7" r="1.07"/><circle cx="916.1" cy="927.3" r="1.07"/><circle cx="923.3" cy="939.0" r="1.08"/><circle cx="847.2" cy="789.2" r="1.01"/><circle cx="853.8" cy="799.7" r="1.02"/><circle cx="860.5" cy="810.3" r="1.02"/><circle cx="867.2" cy="821.0" r="1.03"/><circle cx="873.9" cy="831.7" r="1.03"/><circle cx="880.7" cy="842.6" r="1.04"/><circle cx="887.5" cy="853.6" r="1.04"/><circle cx="894.4" cy="864.6" r="1.05"/><circle cx="901.3" cy="875.8" r="1.05"/><circle cx="908.3" cy="887.1" r="1.06"/><circle cx="915.4" cy="898.4" r="1.06"/><circle cx="922.4" cy="909.9" r="1.06"/><circle cx="929.5" cy="921.4" r="1.07"/><circle cx="936.7" cy="933.1" r="1.07"/><circle cx="867.2" cy="794.5" r="1.02"/><circle cx="873.8" cy="805.0" r="1.02"/><circle cx="880.6" cy="815.6" r="1.03"/><circle cx="887.3" cy="826.3" r="1.03"/><circle cx="894.1" cy="837.1" r="1.04"/><circle cx="901.0" cy="848.1" r="1.04"/><circle cx="907.9" cy="859.1" r="1.04"/><circle cx="914.8" cy="870.2" r="1.05"/><circle cx="921.8" cy="881.4" r="1.05"/><circle cx="928.9" cy="892.7" r="1.06"/><circle cx="936.0" cy="904.1" r="1.06"/><circle cx="943.1" cy="915.6" r="1.07"/><circle cx="950.3" cy="927.2" r="1.07"/><circle cx="880.7" cy="789.3" r="1.02"/><circle cx="887.3" cy="799.7" r="1.02"/><circle cx="894.1" cy="810.3" r="1.02"/><circle cx="900.8" cy="820.9" r="1.03"/><circle cx="907.7" cy="831.7" r="1.03"/><circle cx="914.5" cy="842.5" r="1.04"/><circle cx="921.5" cy="853.5" r="1.04"/><circle cx="928.4" cy="864.5" r="1.05"/><circle cx="935.4" cy="875.7" r="1.05"/><circle cx="942.5" cy="886.9" r="1.06"/><circle cx="949.6" cy="898.2" r="1.06"/><circle cx="956.8" cy="909.7" r="1.07"/><circle cx="964.0" cy="921.2" r="1.07"/><circle cx="894.2" cy="784.0" r="1.01"/><circle cx="900.9" cy="794.4" r="1.02"/><circle cx="907.7" cy="804.9" r="1.02"/><circle cx="914.5" cy="815.5" r="1.03"/><circle cx="921.3" cy="826.2" r="1.03"/><circle cx="928.2" cy="837.0" r="1.04"/><circle cx="935.2" cy="847.8" r="1.04"/><circle cx="942.1" cy="858.8" r="1.05"/><circle cx="949.2" cy="869.9" r="1.05"/><circle cx="956.3" cy="881.1" r="1.06"/><circle cx="963.4" cy="892.4" r="1.06"/><circle cx="970.6" cy="903.8" r="1.06"/><circle cx="977.8" cy="915.2" r="1.07"/><circle cx="914.7" cy="789.0" r="1.02"/><circle cx="921.4" cy="799.5" r="1.02"/><circle cx="928.2" cy="810.0" r="1.03"/><circle cx="935.1" cy="820.6" r="1.03"/><circle cx="942.0" cy="831.4" r="1.04"/><circle cx="949.0" cy="842.2" r="1.04"/><circle cx="956.0" cy="853.1" r="1.04"/><circle cx="963.0" cy="864.2" r="1.05"/><circle cx="970.1" cy="875.3" r="1.05"/><circle cx="977.3" cy="886.5" r="1.06"/><circle cx="984.5" cy="897.8" r="1.06"/><circle cx="991.7" cy="909.2" r="1.07"/><circle cx="928.5" cy="783.7" r="1.02"/><circle cx="935.3" cy="794.1" r="1.02"/><circle cx="942.1" cy="804.5" r="1.02"/><circle cx="949.0" cy="815.1" r="1.03"/><circle cx="955.9" cy="825.8" r="1.03"/><circle cx="962.9" cy="836.5" r="1.04"/><circle cx="969.9" cy="847.4" r="1.04"/><circle cx="977.0" cy="858.4" r="1.05"/><circle cx="984.1" cy="869.4" r="1.05"/><circle cx="991.3" cy="880.6" r="1.06"/><circle cx="998.5" cy="891.8" r="1.06"/><circle cx="1005.8" cy="903.2" r="1.07"/><circle cx="942.5" cy="778.3" r="1.01"/><circle cx="949.3" cy="788.6" r="1.02"/><circle cx="956.1" cy="799.0" r="1.02"/><circle cx="963.0" cy="809.5" r="1.03"/><circle cx="970.0" cy="820.1" r="1.03"/><circle cx="977.0" cy="830.8" r="1.04"/><circle cx="984.0" cy="841.6" r="1.04"/><circle cx="991.1" cy="852.6" r="1.05"/><circle cx="998.2" cy="863.6" r="1.05"/><circle cx="1005.4" cy="874.7" r="1.05"/><circle cx="1012.7" cy="885.8" r="1.06"/><circle cx="1019.9" cy="897.1" r="1.06"/><circle cx="963.4" cy="783.1" r="1.02"/><circle cx="970.2" cy="793.5" r="1.02"/><circle cx="977.2" cy="803.9" r="1.03"/><circle cx="984.1" cy="814.5" r="1.03"/><circle cx="991.1" cy="825.1" r="1.03"/><circle cx="998.2" cy="835.9" r="1.04"/><circle cx="1005.3" cy="846.7" r="1.04"/><circle cx="1012.5" cy="857.7" r="1.05"/><circle cx="1019.7" cy="868.7" r="1.05"/><circle cx="1026.9" cy="879.8" r="1.06"/><circle cx="977.6" cy="777.6" r="1.01"/><circle cx="984.5" cy="787.9" r="1.02"/><circle cx="991.4" cy="798.3" r="1.02"/><circle cx="998.4" cy="808.8" r="1.03"/><circle cx="1005.4" cy="819.4" r="1.03"/><circle cx="1012.5" cy="830.1" r="1.04"/><circle cx="1019.7" cy="840.9" r="1.04"/><circle cx="1026.8" cy="851.7" r="1.05"/><circle cx="991.9" cy="772.1" r="1.01"/><circle cx="998.8" cy="782.3" r="1.02"/><circle cx="1005.8" cy="792.7" r="1.02"/><circle cx="1012.8" cy="803.1" r="1.03"/><circle cx="1019.9" cy="813.6" r="1.03"/><circle cx="1027.0" cy="824.2" r="1.04"/><circle cx="1013.3" cy="776.7" r="1.02"/><circle cx="1020.3" cy="787.0" r="1.02"/><circle cx="1027.3" cy="797.4" r="1.03"/><circle cx="1027.9" cy="771.1" r="1.01"/></g>
</g>
<path d="M803,1004.5 L1024,907.7" stroke="#222" stroke-width="1.8" fill="none"/>
<g clip-path="url(#cL4)"><path d="M517.0,440.4 C520.2,445.0 530.0,458.7 536.5,467.8 C543.0,476.9 549.6,485.7 556.1,495.1 C562.6,504.5 569.6,515.6 575.7,524.4 C581.8,533.2 587.1,540.2 592.5,548.0 C597.9,555.8 601.5,562.6 608.0,571.0 C614.5,579.4 624.6,589.9 631.8,598.1 C639.0,606.4 644.3,611.7 651.3,620.5 C658.3,629.3 668.6,643.9 673.8,650.8 C679.0,657.7 677.5,656.2 682.5,662.0 C687.5,667.8 696.8,678.0 704.0,685.5 C711.2,693.0 718.3,699.5 725.5,707.0 C732.7,714.5 739.8,722.8 747.0,730.6 C754.2,738.4 761.4,746.5 768.5,754.0 C775.6,761.5 783.2,769.4 789.9,775.7 C796.6,782.0 804.9,789.1 808.5,792.0 C812.1,794.9 811.0,792.8 811.5,793.0 L1024,768" stroke="#3a3a3c" stroke-width="5" fill="none" opacity="0.35" filter="url(#blur2)"/></g>

<!-- layer 3 -->
<path d="M502.7,337.9 Q503,331.5 509,331 L538.8,330 L700,300 L1040,300 L1040,767 L1024,767 L809,792 C808.5,791.8 809.6,793.9 806.0,791.0 C802.4,788.1 794.1,781.0 787.4,774.7 C780.7,768.4 773.1,760.5 766.0,753.0 C758.9,745.5 751.7,737.4 744.5,729.6 C737.3,721.8 730.2,713.5 723.0,706.0 C715.8,698.5 708.7,692.0 701.5,684.5 C694.3,677.0 685.0,666.8 680.0,661.0 C675.0,655.2 676.5,656.7 671.3,649.8 C666.1,642.9 655.8,628.3 648.8,619.5 C641.8,610.7 636.5,605.4 629.3,597.1 C622.1,588.9 612.0,578.4 605.5,570.0 C599.0,561.6 595.4,554.8 590.0,547.0 C584.6,539.2 579.3,532.2 573.2,523.4 C567.1,514.6 560.1,503.5 553.6,494.1 C547.1,484.7 540.5,475.9 534.0,466.8 C527.5,457.7 518.7,445.2 514.5,439.4 C510.3,433.6 510.5,434.9 509.0,432.0 C507.5,429.1 506.4,430.7 505.5,422.0 C504.6,413.3 504.0,394.0 503.5,380.0 C503.0,366.0 502.8,344.9 502.7,337.9 Z" fill="url(#gTop)"/>
<g clip-path="url(#cL3)">
  <g mask="url(#mD)"><path d="M600.0,370.0 C606.7,373.4 629.7,385.0 640.0,390.3 C650.3,395.6 652.0,398.2 662.0,402.0 C672.0,405.8 683.7,409.5 700.0,413.0 C716.3,416.5 743.3,420.2 760.0,423.0 C776.7,425.8 788.3,427.5 800.0,430.0 C811.7,432.5 818.3,435.7 830.0,438.0 C841.7,440.3 858.3,442.2 870.0,444.0 C881.7,445.8 885.0,446.5 900.0,449.0 C915.0,451.5 939.3,454.2 960.0,459.0 C980.7,463.8 1009.8,474.2 1024.0,478.0 C1038.2,481.8 1041.5,481.3 1045.0,482.0 L1045.0,622.0 C1041.5,620.6 1038.2,620.4 1024.0,613.7 C1009.8,607.0 980.7,590.7 960.0,581.7 C939.3,572.6 915.0,565.0 900.0,559.4 C885.0,553.8 881.7,552.5 870.0,548.3 C858.3,544.1 841.7,538.8 830.0,534.1 C818.3,529.4 811.7,525.0 800.0,520.0 C788.3,515.0 776.7,510.7 760.0,504.2 C743.3,497.8 716.3,488.2 700.0,481.1 C683.7,474.1 672.0,467.8 662.0,461.8 C652.0,455.8 650.3,451.4 640.0,445.3 C629.7,439.2 606.7,428.4 600.0,425.0 Z" fill="#a08c6e" opacity="0.32" filter="url(#bl18)"/></g>
  <g mask="url(#mC)"><path d="M600.0,370.0 C606.7,373.4 629.7,385.0 640.0,390.3 C650.3,395.6 652.0,398.2 662.0,402.0 C672.0,405.8 683.7,409.5 700.0,413.0 C716.3,416.5 743.3,420.2 760.0,423.0 C776.7,425.8 788.3,427.5 800.0,430.0 C811.7,432.5 818.3,435.7 830.0,438.0 C841.7,440.3 858.3,442.2 870.0,444.0 C881.7,445.8 885.0,446.5 900.0,449.0 C915.0,451.5 939.3,454.2 960.0,459.0 C980.7,463.8 1009.8,474.2 1024.0,478.0 C1038.2,481.8 1041.5,481.3 1045.0,482.0 L1045.0,550.0 C1041.5,549.1 1038.2,549.4 1024.0,544.6 C1009.8,539.7 980.7,527.4 960.0,521.1 C939.3,514.9 915.0,511.0 900.0,507.0 C885.0,503.0 881.7,500.9 870.0,497.2 C858.3,493.5 841.7,489.0 830.0,484.8 C818.3,480.6 811.7,475.9 800.0,472.0 C788.3,468.1 776.7,465.8 760.0,461.5 C743.3,457.2 716.3,451.2 700.0,446.2 C683.7,441.3 672.0,436.6 662.0,431.9 C652.0,427.3 650.3,424.0 640.0,418.3 C629.7,412.6 606.7,401.4 600.0,398.0 Z" fill="#a08c6e" opacity="0.6" filter="url(#bl10)"/></g>
</g>
<path d="M506.7,347.6 C509.6,350.5 518.1,358.7 524.3,365.2 C530.5,371.7 537.3,379.4 543.8,386.7 C550.3,394.0 556.9,401.3 563.4,408.8 C569.9,416.3 576.4,424.0 582.9,431.6 C589.4,439.2 596.1,446.9 602.5,454.5 C608.9,462.1 614.8,469.4 621.0,477.0 C627.2,484.6 633.7,492.8 640.0,500.0 C646.3,507.2 652.5,513.4 659.0,520.0 C665.5,526.6 672.2,533.2 679.0,539.5 C685.8,545.8 693.5,551.9 700.0,558.0 C706.5,564.1 711.1,569.4 718.0,576.0 C724.9,582.6 731.8,589.2 741.6,597.7 C751.4,606.2 767.0,618.8 776.7,627.0 C786.4,635.2 793.5,641.5 800.0,647.0 C806.5,652.5 812.2,657.5 815.8,660.2 C819.4,663.0 820.5,663.0 821.5,663.5 L821.5,664 L811,789.7 L809,792 C808.5,791.8 809.6,793.9 806.0,791.0 C802.4,788.1 794.1,781.0 787.4,774.7 C780.7,768.4 773.1,760.5 766.0,753.0 C758.9,745.5 751.7,737.4 744.5,729.6 C737.3,721.8 730.2,713.5 723.0,706.0 C715.8,698.5 708.7,692.0 701.5,684.5 C694.3,677.0 685.0,666.8 680.0,661.0 C675.0,655.2 676.5,656.7 671.3,649.8 C666.1,642.9 655.8,628.3 648.8,619.5 C641.8,610.7 636.5,605.4 629.3,597.1 C622.1,588.9 612.0,578.4 605.5,570.0 C599.0,561.6 595.4,554.8 590.0,547.0 C584.6,539.2 579.3,532.2 573.2,523.4 C567.1,514.6 560.1,503.5 553.6,494.1 C547.1,484.7 540.5,475.9 534.0,466.8 C527.5,457.7 518.7,445.2 514.5,439.4 C510.3,433.6 510.5,434.9 509.0,432.0 C507.5,429.1 506.4,430.7 505.5,422.0 C504.6,413.3 504.0,394.0 503.5,380.0 C503.0,366.0 502.8,344.9 502.7,337.9 L506.7,347.6 Z" fill="url(#gLF)"/>
<path d="M821.5,663 L900,659.7 L1040,650 L1040,767 L1024,767 L809,792 L811,789.7 Z" fill="url(#gFF)"/>
<path d="M506.7,347.6 C509.6,350.5 518.1,358.7 524.3,365.2 C530.5,371.7 537.3,379.4 543.8,386.7 C550.3,394.0 556.9,401.3 563.4,408.8 C569.9,416.3 576.4,424.0 582.9,431.6 C589.4,439.2 596.1,446.9 602.5,454.5 C608.9,462.1 614.8,469.4 621.0,477.0 C627.2,484.6 633.7,492.8 640.0,500.0 C646.3,507.2 652.5,513.4 659.0,520.0 C665.5,526.6 672.2,533.2 679.0,539.5 C685.8,545.8 693.5,551.9 700.0,558.0 C706.5,564.1 711.1,569.4 718.0,576.0 C724.9,582.6 731.8,589.2 741.6,597.7 C751.4,606.2 767.0,618.8 776.7,627.0 C786.4,635.2 793.5,641.5 800.0,647.0 C806.5,652.5 812.2,657.5 815.8,660.2 C819.4,663.0 820.5,663.0 821.5,663.5" stroke="#efeae2" stroke-width="3" fill="none" filter="url(#blur1)"/>
<path d="M821.5,664 L811,790" stroke="#e6e0d6" stroke-width="2.5" fill="none" filter="url(#blur1)"/>
<path d="M809.0,792.0 C808.5,791.8 809.6,793.9 806.0,791.0 C802.4,788.1 794.1,781.0 787.4,774.7 C780.7,768.4 773.1,760.5 766.0,753.0 C758.9,745.5 751.7,737.4 744.5,729.6 C737.3,721.8 730.2,713.5 723.0,706.0 C715.8,698.5 708.7,692.0 701.5,684.5 C694.3,677.0 685.0,666.8 680.0,661.0 C675.0,655.2 676.5,656.7 671.3,649.8 C666.1,642.9 655.8,628.3 648.8,619.5 C641.8,610.7 636.5,605.4 629.3,597.1 C622.1,588.9 612.0,578.4 605.5,570.0 C599.0,561.6 595.4,554.8 590.0,547.0 C584.6,539.2 579.3,532.2 573.2,523.4 C567.1,514.6 556.9,499.0 553.6,494.1" stroke="#f6f5f2" stroke-width="1.6" fill="none"/>

<!-- layer 2 -->
<path d="M496.8,261.7 Q497,259 500,258.5 L591.6,234.7 L700,205 L1040,150 L1040,494 L1024,493 C1018.3,491.3 1005.7,488.1 990.0,483.0 C974.3,477.9 945.0,468.7 930.0,462.7 C915.0,456.7 910.8,452.4 900.0,447.2 C889.2,442.0 874.8,436.0 865.2,431.3 C855.6,426.6 846.1,421.1 842.3,419.0 L839.8,418.2 C835.7,419.2 823.2,422.3 815.0,424.0 C806.8,425.7 798.7,427.1 790.4,428.3 C782.1,429.5 773.6,430.4 765.0,431.0 C756.4,431.6 748.0,431.9 738.8,431.8 C729.6,431.7 719.3,431.6 710.0,430.5 C700.7,429.4 691.0,427.2 683.0,425.5 C675.0,423.8 669.2,423.0 662.0,420.5 C654.8,418.0 646.6,413.3 640.0,410.3 C633.4,407.3 628.0,405.4 622.5,402.5 C617.0,399.6 612.1,396.8 606.9,393.1 C601.7,389.5 596.5,385.2 591.2,380.6 C586.0,376.1 580.8,370.9 575.6,365.8 C570.4,360.7 564.9,355.5 560.0,350.2 C555.1,344.9 550.3,339.3 546.0,334.0 C541.7,328.7 538.5,324.6 534.0,318.4 C529.5,312.2 524.2,303.8 519.3,296.9 C514.4,290.0 508.4,283.2 504.6,277.3 C500.9,271.4 498.1,264.3 496.8,261.7 Z" fill="#f3f2f0"/>
<g clip-path="url(#cL2)">
  <path d="M496.8,261.7 Q497,259 500,258.5 L591.6,234.7 L700,205 L1040,150 L1040,494 L1024,493 C1018.3,491.3 1005.7,488.1 990.0,483.0 C974.3,477.9 945.0,468.7 930.0,462.7 C915.0,456.7 910.8,452.4 900.0,447.2 C889.2,442.0 874.8,436.0 865.2,431.3 C855.6,426.6 846.1,421.1 842.3,419.0 L839.8,418.2 C835.7,419.2 823.2,422.3 815.0,424.0 C806.8,425.7 798.7,427.1 790.4,428.3 C782.1,429.5 773.6,430.4 765.0,431.0 C756.4,431.6 748.0,431.9 738.8,431.8 C729.6,431.7 719.3,431.6 710.0,430.5 C700.7,429.4 691.0,427.2 683.0,425.5 C675.0,423.8 669.2,423.0 662.0,420.5 C654.8,418.0 646.6,413.3 640.0,410.3 C633.4,407.3 628.0,405.4 622.5,402.5 C617.0,399.6 612.1,396.8 606.9,393.1 C601.7,389.5 596.5,385.2 591.2,380.6 C586.0,376.1 580.8,370.9 575.6,365.8 C570.4,360.7 564.9,355.5 560.0,350.2 C555.1,344.9 550.3,339.3 546.0,334.0 C541.7,328.7 538.5,324.6 534.0,318.4 C529.5,312.2 524.2,303.8 519.3,296.9 C514.4,290.0 508.4,283.2 504.6,277.3 C500.9,271.4 498.1,264.3 496.8,261.7 Z" fill="url(#waffle)"/>
  <g mask="url(#mB)"><path d="M620.0,210.0 C623.2,211.4 632.8,216.1 639.5,218.3 C646.2,220.5 653.4,221.6 660.0,223.0 C666.6,224.4 672.6,225.4 678.9,226.5 C685.2,227.6 691.0,228.5 697.9,229.7 C704.8,230.9 709.6,231.4 720.0,233.5 C730.4,235.6 746.7,239.2 760.0,242.0 C773.3,244.8 782.7,246.8 800.0,250.4 C817.3,253.9 844.5,259.7 864.0,263.3 C883.5,266.9 899.3,269.0 917.0,272.0 C934.7,275.0 952.2,278.3 970.0,281.5 C987.8,284.7 1011.5,289.1 1024.0,291.4 C1036.5,293.6 1041.5,294.4 1045.0,295.0 L1045.0,435.0 C1041.5,434.3 1036.5,433.4 1024.0,430.7 C1011.5,428.0 987.8,422.8 970.0,418.9 C952.2,415.1 934.7,411.6 917.0,407.6 C899.3,403.6 883.5,400.1 864.0,394.7 C844.5,389.3 817.3,381.7 800.0,375.4 C782.7,369.1 773.3,363.1 760.0,357.0 C746.7,350.9 730.4,343.3 720.0,338.5 C709.6,333.7 704.8,332.6 697.9,328.4 C691.0,324.2 685.2,318.4 678.9,313.3 C672.6,308.2 666.6,303.5 660.0,298.0 C653.4,292.5 646.2,286.8 639.5,280.5 C632.8,274.2 623.2,263.4 620.0,260.0 Z" fill="#938b84" opacity="0.35" filter="url(#bl18)"/></g>
  <g mask="url(#mA)"><path d="M620.0,210.0 C623.2,211.4 632.8,216.1 639.5,218.3 C646.2,220.5 653.4,221.6 660.0,223.0 C666.6,224.4 672.6,225.4 678.9,226.5 C685.2,227.6 691.0,228.5 697.9,229.7 C704.8,230.9 709.6,231.4 720.0,233.5 C730.4,235.6 746.7,239.2 760.0,242.0 C773.3,244.8 782.7,246.8 800.0,250.4 C817.3,253.9 844.5,259.7 864.0,263.3 C883.5,266.9 899.3,269.0 917.0,272.0 C934.7,275.0 952.2,278.3 970.0,281.5 C987.8,284.7 1011.5,289.1 1024.0,291.4 C1036.5,293.6 1041.5,294.4 1045.0,295.0 L1045.0,381.0 C1041.5,380.3 1036.5,379.4 1024.0,376.8 C1011.5,374.1 987.8,369.0 970.0,365.2 C952.2,361.4 934.7,357.6 917.0,354.1 C899.3,350.5 883.5,349.3 864.0,343.7 C844.5,338.1 817.3,327.0 800.0,320.4 C782.7,313.8 773.3,309.9 760.0,304.0 C746.7,298.1 730.4,289.9 720.0,285.1 C709.6,280.3 704.8,278.1 697.9,275.3 C691.0,272.5 685.2,270.7 678.9,268.3 C672.6,265.9 666.6,263.7 660.0,261.0 C653.4,258.3 646.2,255.7 639.5,252.2 C632.8,248.7 623.2,242.0 620.0,240.0 Z" fill="#938b84" opacity="0.75" filter="url(#bl10)"/></g>
  <path d="M585.0,224.0 C587.5,225.2 594.9,228.7 600.0,231.0 C605.1,233.3 610.7,235.8 615.4,238.0 C620.1,240.2 624.1,242.5 628.1,244.5 C632.1,246.5 634.2,248.2 639.5,250.0 C644.8,251.8 653.4,253.6 660.0,255.0 C666.6,256.4 672.6,257.3 678.9,258.5 C685.2,259.7 691.0,260.8 697.9,262.0 C704.8,263.2 703.0,262.5 720.0,266.0 C737.0,269.5 776.0,278.0 800.0,283.0 C824.0,288.0 844.5,292.3 864.0,296.0 C883.5,299.7 890.3,300.2 917.0,305.0 C943.7,309.8 1006.2,321.2 1024.0,324.5" stroke="#6a625a" stroke-width="4" fill="none" opacity="0.45" filter="url(#blur2)"/>
  <path d="M840.5,403.2 C844.6,404.9 855.3,409.1 865.2,413.7 C875.1,418.2 889.2,425.3 900.0,430.5 C910.8,435.7 915.0,439.6 930.0,445.0 C945.0,450.4 974.3,458.2 990.0,462.7 C1005.7,467.2 1018.3,470.4 1024.0,472.0 L1040,476 L1040,494 L1024,493 C1018.3,491.3 1005.7,488.1 990.0,483.0 C974.3,477.9 945.0,468.7 930.0,462.7 C915.0,456.7 910.8,452.4 900.0,447.2 C889.2,442.0 874.8,436.0 865.2,431.3 C855.6,426.6 846.1,421.1 842.3,419.0 Z" fill="#e8e6e2"/>
  <path d="M840.5,403.2 C844.6,404.9 855.3,409.1 865.2,413.7 C875.1,418.2 889.2,425.3 900.0,430.5 C910.8,435.7 915.0,439.6 930.0,445.0 C945.0,450.4 974.3,458.2 990.0,462.7 C1005.7,467.2 1018.3,470.4 1024.0,472.0 L1040,476 L1040,494 L1024,493 C1018.3,491.3 1005.7,488.1 990.0,483.0 C974.3,477.9 945.0,468.7 930.0,462.7 C915.0,456.7 910.8,452.4 900.0,447.2 C889.2,442.0 874.8,436.0 865.2,431.3 C855.6,426.6 846.1,421.1 842.3,419.0 Z" fill="url(#ribs)"/>
  <path d="M840.5,403.2 C844.6,404.9 855.3,409.1 865.2,413.7 C875.1,418.2 889.2,425.3 900.0,430.5 C910.8,435.7 915.0,439.6 930.0,445.0 C945.0,450.4 974.3,458.2 990.0,462.7 C1005.7,467.2 1018.3,470.4 1024.0,472.0" stroke="#fdfdfc" stroke-width="1.5" fill="none"/>
  <path d="M496.8,261.7 C498.1,264.3 500.9,271.4 504.6,277.3 C508.4,283.2 514.4,290.0 519.3,296.9 C524.2,303.8 529.5,312.2 534.0,318.4 C538.5,324.6 541.7,328.7 546.0,334.0 C550.3,339.3 555.1,344.9 560.0,350.2 C564.9,355.5 570.4,360.7 575.6,365.8 C580.8,370.9 586.0,376.1 591.2,380.6 C596.5,385.2 601.7,389.5 606.9,393.1 C612.1,396.8 617.0,399.6 622.5,402.5 C628.0,405.4 633.4,407.3 640.0,410.3 C646.6,413.3 654.8,418.0 662.0,420.5 C669.2,423.0 675.0,423.8 683.0,425.5 C691.0,427.2 700.7,429.4 710.0,430.5 C719.3,431.6 729.6,431.7 738.8,431.8 C748.0,431.9 756.4,431.6 765.0,431.0 C773.6,430.4 782.1,429.5 790.4,428.3 C798.7,427.1 806.8,425.7 815.0,424.0 C823.2,422.3 835.7,419.2 839.8,418.2 L839.8,403.6 C835.7,404.6 823.2,407.7 815.0,409.5 C806.8,411.3 798.7,413.1 790.4,414.4 C782.1,415.7 773.6,416.7 765.0,417.2 C756.4,417.7 748.0,417.9 738.8,417.6 C729.6,417.3 719.3,416.7 710.0,415.5 C700.7,414.3 691.0,412.1 683.0,410.5 C675.0,408.9 669.2,407.9 662.0,405.8 C654.8,403.7 646.6,400.6 640.0,397.8 C633.4,395.0 628.0,392.0 622.5,389.0 C617.0,386.0 612.1,383.4 606.9,379.6 C601.7,375.9 596.2,370.9 591.2,366.5 C586.3,362.1 582.0,357.6 577.0,353.5 C572.0,349.4 566.2,345.9 561.5,342.0 C556.8,338.1 553.1,334.4 549.0,330.0 C544.9,325.6 541.5,321.4 537.0,315.5 C532.5,309.6 526.9,301.2 522.0,294.5 C517.1,287.8 511.2,280.8 507.5,275.0 C503.8,269.2 500.8,262.5 499.5,260.0 Z" fill="#fbfbfa"/>
  <path d="M549.0,330.0 C551.1,332.0 556.8,338.1 561.5,342.0 C566.2,345.9 572.0,349.4 577.0,353.5 C582.0,357.6 586.3,362.1 591.2,366.5 C596.2,370.9 601.7,375.9 606.9,379.6 C612.1,383.4 617.0,386.0 622.5,389.0 C628.0,392.0 633.4,395.0 640.0,397.8 C646.6,400.6 654.8,403.7 662.0,405.8 C669.2,407.9 675.0,408.9 683.0,410.5 C691.0,412.1 700.7,414.3 710.0,415.5 C719.3,416.7 729.6,417.3 738.8,417.6 C748.0,417.9 756.4,417.7 765.0,417.2 C773.6,416.7 782.1,415.7 790.4,414.4 C798.7,413.1 806.8,411.3 815.0,409.5 C823.2,407.7 835.7,404.6 839.8,403.6" stroke="#d8d6d2" stroke-width="2" fill="none" opacity="0.6" filter="url(#blur1)"/>
</g>
<path d="M640.0,410.3 C643.7,412.0 654.8,418.0 662.0,420.5 C669.2,423.0 675.0,423.8 683.0,425.5 C691.0,427.2 700.7,429.4 710.0,430.5 C719.3,431.6 725.4,432.2 738.8,431.8 C752.2,431.4 773.6,430.6 790.4,428.3 C807.2,426.0 827.3,417.7 839.8,418.2 C852.3,418.7 855.2,426.5 865.2,431.3 C875.2,436.1 889.2,442.0 900.0,447.2 C910.8,452.4 915.0,456.7 930.0,462.7 C945.0,468.7 974.3,477.9 990.0,483.0 C1005.7,488.1 1018.3,491.3 1024.0,493.0 L1040,494 L1040,500 L1024,498 C1013.3,494.8 980.7,483.8 960.0,479.0 C939.3,474.2 915.0,471.5 900.0,469.0 C885.0,466.5 881.7,465.8 870.0,464.0 C858.3,462.2 841.7,460.3 830.0,458.0 C818.3,455.7 811.7,452.5 800.0,450.0 C788.3,447.5 775.0,445.7 760.0,443.0 C745.0,440.3 722.8,436.6 710.0,434.0 C697.2,431.4 691.0,429.5 683.0,427.5 C675.0,425.5 669.2,424.9 662.0,422.0 C654.8,419.1 643.7,412.2 640.0,410.3 Z" fill="url(#gUnder)" filter="url(#blur1)"/>
<path d="M546.0,334.0 C548.3,336.7 555.1,344.9 560.0,350.2 C564.9,355.5 570.4,360.7 575.6,365.8 C580.8,370.9 586.0,376.1 591.2,380.6 C596.5,385.2 601.7,389.5 606.9,393.1 C612.1,396.8 617.0,399.6 622.5,402.5 C628.0,405.4 633.4,407.3 640.0,410.3 C646.6,413.3 654.8,418.0 662.0,420.5 C669.2,423.0 675.0,423.8 683.0,425.5 C691.0,427.2 700.7,429.4 710.0,430.5 C719.3,431.6 729.6,431.7 738.8,431.8 C748.0,431.9 756.4,431.6 765.0,431.0 C773.6,430.4 782.1,429.5 790.4,428.3 C798.7,427.1 806.8,425.7 815.0,424.0 C823.2,422.3 835.7,419.2 839.8,418.2" stroke="#b9b3aa" stroke-width="1.2" fill="none" opacity="0.8"/>

<!-- layer 1 -->
<path d="M505.5,141 Q504.5,133 512.2,132.2 L575,119.3 L824,66.4 L1024,23.4 L1030,22 L1030,322.5 L1024,321.4 C1006.2,318.2 943.7,306.7 917.0,302.0 C890.3,297.3 883.5,296.9 864.0,293.3 C844.5,289.7 824.0,285.4 800.0,280.4 C776.0,275.4 737.0,266.9 720.0,263.5 C703.0,260.1 704.8,260.9 697.9,259.7 C691.0,258.5 685.2,257.6 678.9,256.5 C672.6,255.4 666.6,254.4 660.0,253.0 C653.4,251.6 644.8,250.0 639.5,248.3 C634.2,246.6 632.1,245.0 628.1,243.0 C624.1,241.0 620.5,239.2 615.4,236.5 C610.3,233.8 603.9,230.4 597.7,227.0 C591.5,223.6 584.3,220.3 578.1,216.2 C571.9,212.1 565.7,207.1 560.5,202.5 C555.3,197.9 551.6,193.7 546.9,188.8 C542.2,183.9 536.8,178.1 532.2,173.2 C527.6,168.3 524.0,164.9 519.5,159.5 C515.0,154.1 507.8,144.1 505.5,141.0 Z" fill="url(#gL1)"/>
<g clip-path="url(#cL1)">
  <g mask="url(#mE)"><path d="M507.0,144.5 C509.2,147.1 515.7,155.2 520.0,160.0 C524.3,164.8 528.5,168.9 533.0,173.5 C537.5,178.1 542.5,183.2 547.0,187.5 C551.5,191.8 554.6,195.6 560.0,199.3 C565.4,203.0 573.0,206.2 579.5,209.5 C586.0,212.8 592.5,216.1 599.0,219.3 C605.5,222.5 612.4,226.0 618.6,228.6 C624.8,231.2 629.1,233.2 636.0,235.0 C642.9,236.8 651.6,238.7 660.0,239.5 C668.4,240.3 676.9,240.8 686.4,239.6 C695.9,238.4 706.0,235.9 716.9,232.6 C727.8,229.3 740.3,224.4 752.0,219.7 C763.7,215.0 775.5,210.0 787.2,204.5 C798.9,199.0 810.6,193.0 822.3,186.9 C834.0,180.8 846.2,174.2 857.5,168.1 C868.8,162.0 884.8,153.4 890.3,150.5 L1024,251 L1040,251 L1040,340 L500,340 L500,150 Z" fill="#404042" filter="url(#blur3)"/></g>
  <path d="M507.0,144.5 C509.2,147.1 515.7,155.2 520.0,160.0 C524.3,164.8 528.5,168.9 533.0,173.5 C537.5,178.1 542.5,183.2 547.0,187.5 C551.5,191.8 554.6,195.6 560.0,199.3 C565.4,203.0 573.0,206.2 579.5,209.5 C586.0,212.8 592.5,216.1 599.0,219.3 C605.5,222.5 612.4,226.0 618.6,228.6 C624.8,231.2 629.1,233.2 636.0,235.0 C642.9,236.8 651.6,238.7 660.0,239.5 C668.4,240.3 682.0,239.6 686.4,239.6" stroke="#78787a" stroke-width="3.5" fill="none"/>
  <path d="M505.5,141 Q504.5,133 512.2,132.2 L575,119.3 L824,66.4 L1024,23.4 L1030,22 L1030,322.5 L1024,321.4 C1006.2,318.2 943.7,306.7 917.0,302.0 C890.3,297.3 883.5,296.9 864.0,293.3 C844.5,289.7 824.0,285.4 800.0,280.4 C776.0,275.4 737.0,266.9 720.0,263.5 C703.0,260.1 704.8,260.9 697.9,259.7 C691.0,258.5 685.2,257.6 678.9,256.5 C672.6,255.4 666.6,254.4 660.0,253.0 C653.4,251.6 644.8,250.0 639.5,248.3 C634.2,246.6 632.1,245.0 628.1,243.0 C624.1,241.0 620.5,239.2 615.4,236.5 C610.3,233.8 603.9,230.4 597.7,227.0 C591.5,223.6 584.3,220.3 578.1,216.2 C571.9,212.1 565.7,207.1 560.5,202.5 C555.3,197.9 551.6,193.7 546.9,188.8 C542.2,183.9 536.8,178.1 532.2,173.2 C527.6,168.3 524.0,164.9 519.5,159.5 C515.0,154.1 507.8,144.1 505.5,141.0 Z" fill="url(#stripes)"/>
  <path d="M505.5,141 Q504.5,133 512.2,132.2 L575,119.3 L824,66.4 L1024,23.4 L1030,22 L1030,322.5 L1024,321.4 C1006.2,318.2 943.7,306.7 917.0,302.0 C890.3,297.3 883.5,296.9 864.0,293.3 C844.5,289.7 824.0,285.4 800.0,280.4 C776.0,275.4 737.0,266.9 720.0,263.5 C703.0,260.1 704.8,260.9 697.9,259.7 C691.0,258.5 685.2,257.6 678.9,256.5 C672.6,255.4 666.6,254.4 660.0,253.0 C653.4,251.6 644.8,250.0 639.5,248.3 C634.2,246.6 632.1,245.0 628.1,243.0 C624.1,241.0 620.5,239.2 615.4,236.5 C610.3,233.8 603.9,230.4 597.7,227.0 C591.5,223.6 584.3,220.3 578.1,216.2 C571.9,212.1 565.7,207.1 560.5,202.5 C555.3,197.9 551.6,193.7 546.9,188.8 C542.2,183.9 536.8,178.1 532.2,173.2 C527.6,168.3 524.0,164.9 519.5,159.5 C515.0,154.1 507.8,144.1 505.5,141.0 Z" fill="url(#stripes2)"/>
  <path d="M686.4,239.6 C691.5,238.4 706.0,235.9 716.9,232.6 C727.8,229.3 740.3,224.4 752.0,219.7 C763.7,215.0 775.5,210.0 787.2,204.5 C798.9,199.0 810.6,193.0 822.3,186.9 C834.0,180.8 846.2,174.2 857.5,168.1 C868.8,162.0 884.8,153.4 890.3,150.5" stroke="#828284" stroke-width="5.5" stroke-linecap="round" fill="none"/>
</g>

<g stroke="#6a6a6a" stroke-width="1.7" fill="none">
  <path d="M509,541.5 H660.7 V258"/>
  <path d="M509,651.6 H740.2 V398"/>
  <path d="M509,754.2 H840"/>
  <path d="M509,858 H733"/>
</g>
<g fill="#f7d9b2">
  <circle cx="661.7" cy="236.7" r="23.3"/>
  <circle cx="738.5" cy="375" r="23.6"/>
  <circle cx="862.2" cy="752" r="23.6"/>
  <circle cx="755.7" cy="857.4" r="23.3"/>
</g>

<g fill="#111">
  <path d="M655.7,229 L665,223.4 H668.6 V251.8 H663.6 V228.8 L657,232.6 Z"/>
  <path d="M755.3,843.9 L760.5,843.9 L750.8,862.9 L766.4,862.9 L766.4,866.6 L745,866.6 L745,863.4 Z"/>
  <rect x="758.2" y="855.7" width="4.4" height="16.7"/>
</g>
<g stroke="#111" stroke-width="4.1" fill="none" stroke-linejoin="round">
  <path d="M731,368.8 C731.8,365.3 734.5,364.05 738,364.05 C742.6,364.05 746.3,366.6 746.3,371 C746.3,373.8 745,375.8 742.6,378.2 L731,389.25 H748.4"/>
  <path d="M854.3,742.6 C855.3,739.9 858.2,738.45 861.6,738.45 C865.6,738.45 868.3,740.8 868.3,744.2 C868.3,747.9 865.3,750.4 861.2,750.4 H859.3 M861.2,750.4 C866.8,750.4 870.35,753.4 870.35,757.2 C870.35,761.3 866.8,763.55 862,763.55 C857.8,763.55 854.8,761.6 853.8,758.7"/>
</g>

<rect x="27.6" y="26.1" width="124.2" height="127.4" fill="#e11c50"/>
<g fill="#fff">
  <path fill-rule="evenodd" d="M42.44,90.6 a14.7,14.7 0 1 0 29.4,0 a14.7,14.7 0 1 0 -29.4,0 Z M50,90.9 a7.15,7.15 0 1 0 14.3,0 a7.15,7.15 0 1 0 -14.3,0 Z"/>
  <rect x="64.3" y="73.8" width="7.9" height="17"/>
  <path fill-rule="evenodd" d="M74.8,90.8 a14.6,14.6 0 1 0 29.2,0 a14.6,14.6 0 1 0 -29.2,0 Z M82.2,90.9 a7.2,7.2 0 1 0 14.4,0 a7.2,7.2 0 1 0 -14.4,0 Z"/>
  <rect x="85" y="87.1" width="19" height="6.5"/>
  <path d="M107.4,73.1 H114.6 V91.4 A7,7 0 0 0 121.6,98.4 H123.8 V105.1 H121.4 A14,14 0 0 1 107.4,91.1 Z"/>
  <rect x="125.2" y="73.3" width="8.2" height="6.6"/>
  <rect x="125.2" y="81.9" width="8.2" height="23.2"/>
</g>
<rect x="89.4" y="93.6" width="16" height="4.5" fill="#e11c50"/>
</svg>
<div class="t" style="left:26.6px;top:198.1px;font-size:63.4px;-webkit-text-stroke:2.6px #000;transform:scaleX(0.950)">CẤU TRÚC 4 LỚP</div>
<div class="t" style="left:27.6px;top:275.2px;font-size:27.9px;-webkit-text-stroke:1px #000;transform:scaleX(1.0038)">ĐÀN HỒI VÀ NÂNG ĐỠ HIỆU QUẢ</div>
<div class="pill" style="top:508px"></div>
<div class="pill" style="top:624px"></div>
<div class="pill" style="top:728.5px"></div>
<div class="pill" style="top:834.5px"></div>
<div class="pt" style="left:40.5px;top:522.47px;transform:scaleX(1.0589)">Lớp vải lưới thoáng khí có thể tháo giặt</div>
<div class="pt" style="left:107.3px;top:639.37px;transform:scaleX(1.0624)">Lớp mút thoáng khí đàn hồi</div>
<div class="pt" style="left:157.3px;top:745.97px;transform:scaleX(1.0564)">Lõi mút nhớ hỗ trợ</div>
<div class="pt" style="left:107.7px;top:852.77px;transform:scaleX(1.0447)">Đế đáy chống trượt dày đặc</div>
</body></html>
